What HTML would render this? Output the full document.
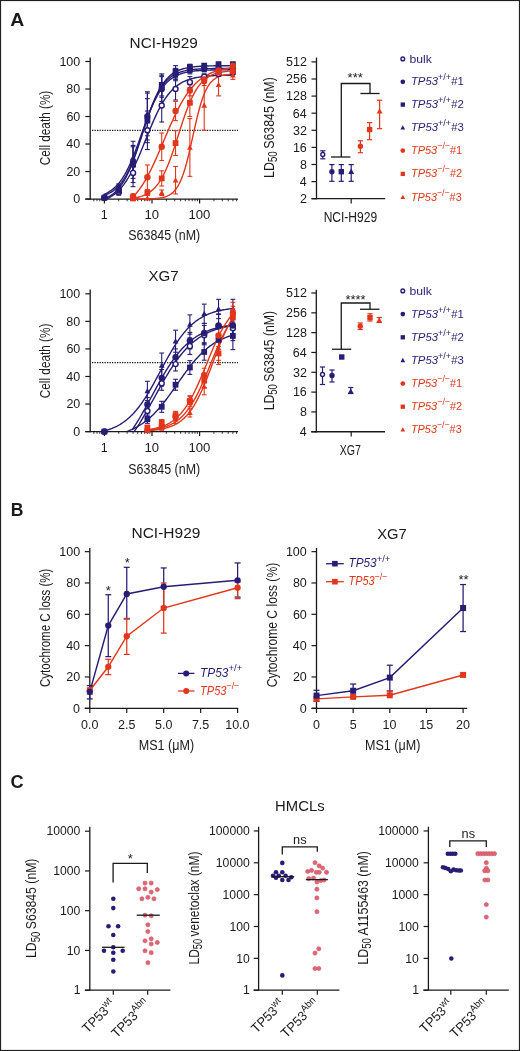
<!DOCTYPE html>
<html><head><meta charset="utf-8"><title>Figure</title>
<style>html,body{margin:0;padding:0;background:#fff;}body{width:520px;height:1051px;overflow:hidden;font-family:"Liberation Sans",sans-serif;}svg{display:block;will-change:transform;}svg text{white-space:pre;}</style>
</head><body>
<svg width="520" height="1051" viewBox="0 0 520 1051" font-family="Liberation Sans, sans-serif"><rect x="0.5" y="0.5" width="519" height="1050" fill="#fff" stroke="#202020" stroke-width="1.2"/>
<g transform="translate(10.8,25.8) scale(1.05,1)" fill="#1a1a1a"><text x="-0.46" y="0" font-size="18.5" font-weight="bold">A</text></g>
<g transform="translate(11.9,516.2) scale(0.95,1)" fill="#1a1a1a"><text x="-1.2" y="0" font-size="18.5" font-weight="bold">B</text></g>
<g transform="translate(11.2,788.3) scale(0.98,1)" fill="#1a1a1a"><text x="-0.74" y="0" font-size="18.5" font-weight="bold">C</text></g>
<g transform="translate(130.8,47.7) scale(1.06,1)" fill="#1a1a1a"><text x="-1.16" y="0" font-size="14.5">NCI-H929</text></g>
<line x1="90.2" y1="57.6" x2="90.2" y2="199.7" stroke="#1a1a1a" stroke-width="1.3"/>
<line x1="85.3" y1="199.05" x2="238" y2="199.05" stroke="#1a1a1a" stroke-width="1.3"/>
<line x1="85.3" y1="199.05" x2="90.2" y2="199.05" stroke="#1a1a1a" stroke-width="1.2"/>
<g transform="translate(73.8,203.35) scale(1,1)" fill="#1a1a1a"><text x="-0.5" y="0" font-size="12.5">0</text></g>
<line x1="85.3" y1="171.54" x2="90.2" y2="171.54" stroke="#1a1a1a" stroke-width="1.2"/>
<g transform="translate(66.99,175.84) scale(1,1)" fill="#1a1a1a"><text x="-0.62" y="0" font-size="12.5">20</text></g>
<line x1="85.3" y1="144.03" x2="90.2" y2="144.03" stroke="#1a1a1a" stroke-width="1.2"/>
<g transform="translate(66.61,148.33) scale(1,1)" fill="#1a1a1a"><text x="-0.25" y="0" font-size="12.5">40</text></g>
<line x1="85.3" y1="116.52" x2="90.2" y2="116.52" stroke="#1a1a1a" stroke-width="1.2"/>
<g transform="translate(66.99,120.82) scale(1,1)" fill="#1a1a1a"><text x="-0.62" y="0" font-size="12.5">60</text></g>
<line x1="85.3" y1="89.01" x2="90.2" y2="89.01" stroke="#1a1a1a" stroke-width="1.2"/>
<g transform="translate(66.92,93.31) scale(1,1)" fill="#1a1a1a"><text x="-0.56" y="0" font-size="12.5">80</text></g>
<line x1="85.3" y1="61.5" x2="90.2" y2="61.5" stroke="#1a1a1a" stroke-width="1.2"/>
<g transform="translate(60.36,65.8) scale(1,1)" fill="#1a1a1a"><text x="-0.94" y="0" font-size="12.5">100</text></g>
<line x1="104.4" y1="199.05" x2="104.4" y2="203.55" stroke="#1a1a1a" stroke-width="1.2"/>
<g transform="translate(101.68,219.25) scale(1,1)" fill="#1a1a1a"><text x="-0.94" y="0" font-size="12.5">1</text></g>
<line x1="152" y1="199.05" x2="152" y2="203.55" stroke="#1a1a1a" stroke-width="1.2"/>
<g transform="translate(145.44,219.25) scale(1.05,1)" fill="#1a1a1a"><text x="-0.94" y="0" font-size="12.5">10</text></g>
<line x1="199.6" y1="199.05" x2="199.6" y2="203.55" stroke="#1a1a1a" stroke-width="1.2"/>
<g transform="translate(189.4,219.25) scale(1.05,1)" fill="#1a1a1a"><text x="-0.94" y="0" font-size="12.5">100</text></g>
<line x1="93.84" y1="199.05" x2="93.84" y2="201.25" stroke="#1a1a1a" stroke-width="0.9"/>
<line x1="97.03" y1="199.05" x2="97.03" y2="201.25" stroke="#1a1a1a" stroke-width="0.9"/>
<line x1="99.79" y1="199.05" x2="99.79" y2="201.25" stroke="#1a1a1a" stroke-width="0.9"/>
<line x1="102.22" y1="199.05" x2="102.22" y2="201.25" stroke="#1a1a1a" stroke-width="0.9"/>
<line x1="118.73" y1="199.05" x2="118.73" y2="201.25" stroke="#1a1a1a" stroke-width="0.9"/>
<line x1="127.11" y1="199.05" x2="127.11" y2="201.25" stroke="#1a1a1a" stroke-width="0.9"/>
<line x1="133.06" y1="199.05" x2="133.06" y2="201.25" stroke="#1a1a1a" stroke-width="0.9"/>
<line x1="137.67" y1="199.05" x2="137.67" y2="201.25" stroke="#1a1a1a" stroke-width="0.9"/>
<line x1="141.44" y1="199.05" x2="141.44" y2="201.25" stroke="#1a1a1a" stroke-width="0.9"/>
<line x1="144.63" y1="199.05" x2="144.63" y2="201.25" stroke="#1a1a1a" stroke-width="0.9"/>
<line x1="147.39" y1="199.05" x2="147.39" y2="201.25" stroke="#1a1a1a" stroke-width="0.9"/>
<line x1="149.82" y1="199.05" x2="149.82" y2="201.25" stroke="#1a1a1a" stroke-width="0.9"/>
<line x1="166.33" y1="199.05" x2="166.33" y2="201.25" stroke="#1a1a1a" stroke-width="0.9"/>
<line x1="174.71" y1="199.05" x2="174.71" y2="201.25" stroke="#1a1a1a" stroke-width="0.9"/>
<line x1="180.66" y1="199.05" x2="180.66" y2="201.25" stroke="#1a1a1a" stroke-width="0.9"/>
<line x1="185.27" y1="199.05" x2="185.27" y2="201.25" stroke="#1a1a1a" stroke-width="0.9"/>
<line x1="189.04" y1="199.05" x2="189.04" y2="201.25" stroke="#1a1a1a" stroke-width="0.9"/>
<line x1="192.23" y1="199.05" x2="192.23" y2="201.25" stroke="#1a1a1a" stroke-width="0.9"/>
<line x1="194.99" y1="199.05" x2="194.99" y2="201.25" stroke="#1a1a1a" stroke-width="0.9"/>
<line x1="197.42" y1="199.05" x2="197.42" y2="201.25" stroke="#1a1a1a" stroke-width="0.9"/>
<line x1="213.93" y1="199.05" x2="213.93" y2="201.25" stroke="#1a1a1a" stroke-width="0.9"/>
<line x1="222.31" y1="199.05" x2="222.31" y2="201.25" stroke="#1a1a1a" stroke-width="0.9"/>
<line x1="228.26" y1="199.05" x2="228.26" y2="201.25" stroke="#1a1a1a" stroke-width="0.9"/>
<line x1="232.87" y1="199.05" x2="232.87" y2="201.25" stroke="#1a1a1a" stroke-width="0.9"/>
<line x1="236.64" y1="199.05" x2="236.64" y2="201.25" stroke="#1a1a1a" stroke-width="0.9"/>
<line x1="92" y1="130.28" x2="238" y2="130.28" stroke="#1a1a1a" stroke-width="1.3" stroke-dasharray="1.3 1.2"/>
<g transform="translate(128.8,240.2) scale(0.82,1)" fill="#1a1a1a"><text x="-0.68" y="0" font-size="15.2">S63845 (nM)</text></g>
<g transform="translate(50,164.7) rotate(-90) scale(0.77,1)" fill="#1a1a1a"><text x="-0.77" y="0" font-size="15.3">Cell death (%)</text></g>
<path d="M107.3,198.7L108.47,198.11L109.65,197.47L110.82,196.77L112,196.02L113.17,195.21L114.35,194.33L115.53,193.39L116.7,192.38L117.88,191.29L119.05,190.12L120.23,188.87L121.4,187.53L122.58,186.1L123.75,184.57L124.93,182.95L126.11,181.24L127.28,179.42L128.46,177.5L129.63,175.48L130.81,173.36L131.98,171.14L133.16,168.82L134.33,166.41L135.51,163.92L136.68,161.33L137.86,158.68L139.04,155.95L140.21,153.17L141.39,150.33L142.56,147.45L143.74,144.55L144.91,141.63L146.09,138.7L147.26,135.77L148.44,132.87L149.62,129.99L150.79,127.16L151.97,124.37L153.14,121.65L154.32,118.99L155.49,116.41L156.67,113.91L157.84,111.51L159.02,109.19L160.19,106.97L161.37,104.85L162.55,102.83L163.72,100.92L164.9,99.1L166.07,97.38L167.25,95.77L168.42,94.24L169.6,92.81L170.77,91.48L171.95,90.22L173.13,89.06L174.3,87.97L175.48,86.95L176.65,86.01L177.83,85.14L179,84.33L180.18,83.58L181.35,82.88L182.53,82.24L183.71,81.65L184.88,81.1L186.06,80.6L187.23,80.14L188.41,79.71L189.58,79.32L190.76,78.96L191.93,78.62L193.11,78.32L194.28,78.04L195.46,77.78L196.64,77.54L197.81,77.33L198.99,77.13L200.16,76.95L201.34,76.78L202.51,76.63L203.69,76.49L204.86,76.36L206.04,76.24L207.22,76.14L208.39,76.04L209.57,75.95L210.74,75.86L211.92,75.79L213.09,75.72L214.27,75.66L215.44,75.6L216.62,75.55L217.8,75.5L218.97,75.45L220.15,75.41L221.32,75.38L222.5,75.34L223.67,75.31L224.85,75.28L226.02,75.26L227.2,75.23L228.37,75.21L229.55,75.19L230.73,75.17L231.9,75.16L233.08,75.14" stroke="#261d75" stroke-width="1.4" fill="none"/>
<path d="M103.77,198.74L104.95,198.3L106.12,197.83L107.3,197.3L108.47,196.71L109.65,196.07L110.82,195.36L112,194.57L113.17,193.71L114.35,192.76L115.53,191.72L116.7,190.58L117.88,189.34L119.05,187.98L120.23,186.5L121.4,184.9L122.58,183.16L123.75,181.28L124.93,179.26L126.11,177.09L127.28,174.76L128.46,172.29L129.63,169.66L130.81,166.89L131.98,163.97L133.16,160.91L134.33,157.73L135.51,154.43L136.68,151.02L137.86,147.53L139.04,143.97L140.21,140.36L141.39,136.73L142.56,133.08L143.74,129.45L144.91,125.86L146.09,122.32L147.26,118.86L148.44,115.48L149.62,112.22L150.79,109.07L151.97,106.06L153.14,103.19L154.32,100.46L155.49,97.89L156.67,95.46L157.84,93.19L159.02,91.07L160.19,89.09L161.37,87.26L162.55,85.57L163.72,84L164.9,82.56L166.07,81.24L167.25,80.03L168.42,78.93L169.6,77.92L170.77,77L171.95,76.17L173.13,75.41L174.3,74.72L175.48,74.09L176.65,73.53L177.83,73.01L179,72.55L180.18,72.13L181.35,71.76L182.53,71.42L183.71,71.11L184.88,70.84L186.06,70.59L187.23,70.36L188.41,70.16L189.58,69.98L190.76,69.82L191.93,69.67L193.11,69.54L194.28,69.42L195.46,69.31L196.64,69.22L197.81,69.13L198.99,69.05L200.16,68.98L201.34,68.92L202.51,68.87L203.69,68.82L204.86,68.77L206.04,68.73L207.22,68.69L208.39,68.66L209.57,68.63L210.74,68.61L211.92,68.58L213.09,68.56L214.27,68.54L215.44,68.53L216.62,68.51L217.8,68.5L218.97,68.48L220.15,68.47L221.32,68.46L222.5,68.45L223.67,68.45L224.85,68.44L226.02,68.43L227.2,68.43L228.37,68.42L229.55,68.42L230.73,68.41L231.9,68.41L233.08,68.41" stroke="#261d75" stroke-width="1.4" fill="none"/>
<path d="M103.77,195.45L104.95,195.05L106.12,194.61L107.3,194.12L108.47,193.58L109.65,192.99L110.82,192.33L112,191.6L113.17,190.81L114.35,189.93L115.53,188.97L116.7,187.92L117.88,186.76L119.05,185.5L120.23,184.13L121.4,182.64L122.58,181.02L123.75,179.27L124.93,177.38L126.11,175.34L127.28,173.16L128.46,170.83L129.63,168.35L130.81,165.73L131.98,162.95L133.16,160.04L134.33,156.99L135.51,153.82L136.68,150.53L137.86,147.15L139.04,143.69L140.21,140.16L141.39,136.59L142.56,132.99L143.74,129.39L144.91,125.8L146.09,122.25L147.26,118.76L148.44,115.35L149.62,112.03L150.79,108.82L151.97,105.72L153.14,102.76L154.32,99.93L155.49,97.25L156.67,94.72L157.84,92.34L159.02,90.1L160.19,88.02L161.37,86.08L162.55,84.27L163.72,82.61L164.9,81.07L166.07,79.66L167.25,78.36L168.42,77.16L169.6,76.08L170.77,75.08L171.95,74.18L173.13,73.35L174.3,72.6L175.48,71.92L176.65,71.3L177.83,70.74L179,70.24L180.18,69.78L181.35,69.37L182.53,68.99L183.71,68.66L184.88,68.35L186.06,68.08L187.23,67.83L188.41,67.61L189.58,67.41L190.76,67.23L191.93,67.07L193.11,66.92L194.28,66.79L195.46,66.67L196.64,66.56L197.81,66.47L198.99,66.38L200.16,66.31L201.34,66.24L202.51,66.17L203.69,66.12L204.86,66.07L206.04,66.02L207.22,65.98L208.39,65.95L209.57,65.91L210.74,65.88L211.92,65.86L213.09,65.83L214.27,65.81L215.44,65.79L216.62,65.78L217.8,65.76L218.97,65.75L220.15,65.74L221.32,65.72L222.5,65.71L223.67,65.71L224.85,65.7L226.02,65.69L227.2,65.68L228.37,65.68L229.55,65.67L230.73,65.67L231.9,65.66L233.08,65.66" stroke="#261d75" stroke-width="1.4" fill="none"/>
<path d="M103.77,194.36L104.95,193.88L106.12,193.34L107.3,192.76L108.47,192.12L109.65,191.41L110.82,190.64L112,189.8L113.17,188.88L114.35,187.88L115.53,186.79L116.7,185.61L117.88,184.33L119.05,182.94L120.23,181.44L121.4,179.82L122.58,178.08L123.75,176.22L124.93,174.24L126.11,172.12L127.28,169.87L128.46,167.49L129.63,164.99L130.81,162.36L131.98,159.61L133.16,156.75L134.33,153.79L135.51,150.73L136.68,147.6L137.86,144.4L139.04,141.14L140.21,137.86L141.39,134.55L142.56,131.25L143.74,127.96L144.91,124.7L146.09,121.49L147.26,118.35L148.44,115.29L149.62,112.32L150.79,109.45L151.97,106.69L153.14,104.05L154.32,101.53L155.49,99.14L156.67,96.88L157.84,94.75L159.02,92.75L160.19,90.88L161.37,89.13L162.55,87.51L163.72,86L164.9,84.6L166.07,83.31L167.25,82.11L168.42,81.02L169.6,80.01L170.77,79.08L171.95,78.23L173.13,77.46L174.3,76.75L175.48,76.1L176.65,75.51L177.83,74.97L179,74.48L180.18,74.04L181.35,73.63L182.53,73.27L183.71,72.93L184.88,72.63L186.06,72.36L187.23,72.11L188.41,71.88L189.58,71.68L190.76,71.49L191.93,71.33L193.11,71.18L194.28,71.04L195.46,70.91L196.64,70.8L197.81,70.7L198.99,70.61L200.16,70.53L201.34,70.45L202.51,70.38L203.69,70.32L204.86,70.27L206.04,70.22L207.22,70.17L208.39,70.13L209.57,70.1L210.74,70.06L211.92,70.03L213.09,70L214.27,69.98L215.44,69.96L216.62,69.94L217.8,69.92L218.97,69.9L220.15,69.89L221.32,69.88L222.5,69.86L223.67,69.85L224.85,69.84L226.02,69.83L227.2,69.83L228.37,69.82L229.55,69.81L230.73,69.81L231.9,69.8L233.08,69.8" stroke="#261d75" stroke-width="1.4" fill="none"/>
<path d="M132.43,197.53L133.34,196.59L134.26,195.61L135.17,194.59L136.09,193.52L137,192.41L137.92,191.25L138.83,190.05L139.75,188.79L140.66,187.5L141.58,186.15L142.49,184.76L143.41,183.31L144.32,181.82L145.24,180.28L146.15,178.7L147.07,177.06L147.98,175.38L148.9,173.66L149.81,171.88L150.73,170.07L151.64,168.21L152.56,166.32L153.47,164.38L154.39,162.41L155.3,160.41L156.22,158.37L157.13,156.31L158.05,154.23L158.96,152.12L159.88,149.99L160.79,147.85L161.71,145.69L162.62,143.53L163.54,141.36L164.45,139.19L165.37,137.02L166.28,134.86L167.2,132.71L168.11,130.58L169.03,128.45L169.94,126.35L170.86,124.28L171.77,122.23L172.69,120.2L173.6,118.22L174.52,116.26L175.43,114.34L176.35,112.46L177.26,110.62L178.18,108.83L179.09,107.07L180.01,105.36L180.92,103.7L181.84,102.09L182.75,100.52L183.67,99L184.58,97.53L185.5,96.11L186.41,94.74L187.33,93.41L188.24,92.13L189.16,90.9L190.07,89.72L190.99,88.58L191.9,87.49L192.82,86.44L193.73,85.43L194.65,84.47L195.56,83.54L196.48,82.66L197.39,81.82L198.31,81.01L199.22,80.24L200.14,79.51L201.05,78.81L201.97,78.14L202.88,77.5L203.8,76.9L204.71,76.32L205.63,75.77L206.54,75.25L207.46,74.76L208.37,74.29L209.29,73.84L210.2,73.41L211.12,73.01L212.03,72.63L212.95,72.27L213.86,71.92L214.78,71.6L215.69,71.29L216.61,70.99L217.52,70.72L218.44,70.45L219.35,70.2L220.27,69.97L221.18,69.74L222.1,69.53L223.01,69.33L223.93,69.14L224.84,68.97L225.76,68.8L226.67,68.64L227.59,68.48L228.5,68.34L229.42,68.21L230.33,68.08L231.25,67.96L232.16,67.84L233.08,67.74" stroke="#e2361c" stroke-width="1.4" fill="none"/>
<path d="M132.43,198.23L133.34,198.1L134.26,197.95L135.17,197.78L136.09,197.6L137,197.41L137.92,197.2L138.83,196.97L139.75,196.72L140.66,196.45L141.58,196.15L142.49,195.83L143.41,195.48L144.32,195.1L145.24,194.69L146.15,194.24L147.07,193.75L147.98,193.23L148.9,192.66L149.81,192.04L150.73,191.38L151.64,190.66L152.56,189.88L153.47,189.04L154.39,188.14L155.3,187.17L156.22,186.13L157.13,185.01L158.05,183.82L158.96,182.54L159.88,181.18L160.79,179.72L161.71,178.18L162.62,176.54L163.54,174.81L164.45,172.98L165.37,171.05L166.28,169.02L167.2,166.9L168.11,164.68L169.03,162.37L169.94,159.98L170.86,157.5L171.77,154.94L172.69,152.31L173.6,149.62L174.52,146.87L175.43,144.08L176.35,141.25L177.26,138.4L178.18,135.54L179.09,132.67L180.01,129.81L180.92,126.98L181.84,124.17L182.75,121.4L183.67,118.69L184.58,116.03L185.5,113.45L186.41,110.93L187.33,108.5L188.24,106.15L189.16,103.9L190.07,101.74L190.99,99.67L191.9,97.7L192.82,95.83L193.73,94.06L194.65,92.38L195.56,90.8L196.48,89.31L197.39,87.91L198.31,86.6L199.22,85.37L200.14,84.22L201.05,83.15L201.97,82.15L202.88,81.22L203.8,80.36L204.71,79.56L205.63,78.82L206.54,78.13L207.46,77.49L208.37,76.9L209.29,76.36L210.2,75.86L211.12,75.4L212.03,74.97L212.95,74.58L213.86,74.21L214.78,73.88L215.69,73.57L216.61,73.29L217.52,73.03L218.44,72.8L219.35,72.58L220.27,72.38L221.18,72.19L222.1,72.02L223.01,71.87L223.93,71.72L224.84,71.59L225.76,71.47L226.67,71.36L227.59,71.26L228.5,71.17L229.42,71.09L230.33,71.01L231.25,70.94L232.16,70.87L233.08,70.81" stroke="#e2361c" stroke-width="1.4" fill="none"/>
<path d="M132.43,199.03L133.34,199.03L134.26,199.02L135.17,199.02L136.09,199.02L137,199.01L137.92,199.01L138.83,199L139.75,198.99L140.66,198.99L141.58,198.98L142.49,198.97L143.41,198.95L144.32,198.94L145.24,198.92L146.15,198.91L147.07,198.89L147.98,198.86L148.9,198.84L149.81,198.81L150.73,198.77L151.64,198.73L152.56,198.69L153.47,198.64L154.39,198.58L155.3,198.51L156.22,198.43L157.13,198.35L158.05,198.25L158.96,198.14L159.88,198.01L160.79,197.86L161.71,197.69L162.62,197.5L163.54,197.29L164.45,197.04L165.37,196.76L166.28,196.44L167.2,196.08L168.11,195.67L169.03,195.2L169.94,194.68L170.86,194.08L171.77,193.41L172.69,192.64L173.6,191.79L174.52,190.82L175.43,189.74L176.35,188.53L177.26,187.18L178.18,185.68L179.09,184L180.01,182.16L180.92,180.12L181.84,177.89L182.75,175.45L183.67,172.8L184.58,169.94L185.5,166.87L186.41,163.59L187.33,160.12L188.24,156.48L189.16,152.67L190.07,148.73L190.99,144.69L191.9,140.58L192.82,136.43L193.73,132.28L194.65,128.17L195.56,124.13L196.48,120.19L197.39,116.39L198.31,112.74L199.22,109.28L200.14,106L201.05,102.94L201.97,100.08L202.88,97.44L203.8,95L204.71,92.77L205.63,90.74L206.54,88.89L207.46,87.23L208.37,85.72L209.29,84.37L210.2,83.17L211.12,82.09L212.03,81.13L212.95,80.27L213.86,79.51L214.78,78.84L215.69,78.24L216.61,77.72L217.52,77.25L218.44,76.84L219.35,76.48L220.27,76.16L221.18,75.89L222.1,75.64L223.01,75.42L223.93,75.23L224.84,75.07L225.76,74.92L226.67,74.79L227.59,74.68L228.5,74.58L229.42,74.49L230.33,74.42L231.25,74.35L232.16,74.29L233.08,74.24" stroke="#e2361c" stroke-width="1.4" fill="none"/>
<line x1="118.73" y1="189.42" x2="118.73" y2="194.92" stroke="#261d75" stroke-width="1.1"/>
<line x1="116.33" y1="189.42" x2="121.13" y2="189.42" stroke="#261d75" stroke-width="1.1"/>
<line x1="116.33" y1="194.92" x2="121.13" y2="194.92" stroke="#261d75" stroke-width="1.1"/>
<line x1="133.06" y1="159.16" x2="133.06" y2="186.67" stroke="#261d75" stroke-width="1.1"/>
<line x1="130.66" y1="159.16" x2="135.46" y2="159.16" stroke="#261d75" stroke-width="1.1"/>
<line x1="130.66" y1="186.67" x2="135.46" y2="186.67" stroke="#261d75" stroke-width="1.1"/>
<line x1="147.39" y1="111.02" x2="147.39" y2="149.53" stroke="#261d75" stroke-width="1.1"/>
<line x1="144.99" y1="111.02" x2="149.79" y2="111.02" stroke="#261d75" stroke-width="1.1"/>
<line x1="144.99" y1="149.53" x2="149.79" y2="149.53" stroke="#261d75" stroke-width="1.1"/>
<line x1="161.72" y1="89.01" x2="161.72" y2="122.02" stroke="#261d75" stroke-width="1.1"/>
<line x1="159.32" y1="89.01" x2="164.12" y2="89.01" stroke="#261d75" stroke-width="1.1"/>
<line x1="159.32" y1="122.02" x2="164.12" y2="122.02" stroke="#261d75" stroke-width="1.1"/>
<line x1="175.55" y1="78.01" x2="175.55" y2="100.01" stroke="#261d75" stroke-width="1.1"/>
<line x1="173.15" y1="78.01" x2="177.95" y2="78.01" stroke="#261d75" stroke-width="1.1"/>
<line x1="173.15" y1="100.01" x2="177.95" y2="100.01" stroke="#261d75" stroke-width="1.1"/>
<line x1="189.88" y1="76.63" x2="189.88" y2="87.63" stroke="#261d75" stroke-width="1.1"/>
<line x1="187.48" y1="76.63" x2="192.28" y2="76.63" stroke="#261d75" stroke-width="1.1"/>
<line x1="187.48" y1="87.63" x2="192.28" y2="87.63" stroke="#261d75" stroke-width="1.1"/>
<line x1="204.21" y1="73.88" x2="204.21" y2="79.38" stroke="#261d75" stroke-width="1.1"/>
<line x1="201.81" y1="73.88" x2="206.61" y2="73.88" stroke="#261d75" stroke-width="1.1"/>
<line x1="201.81" y1="79.38" x2="206.61" y2="79.38" stroke="#261d75" stroke-width="1.1"/>
<line x1="218.54" y1="71.82" x2="218.54" y2="75.94" stroke="#261d75" stroke-width="1.1"/>
<line x1="216.14" y1="71.82" x2="220.94" y2="71.82" stroke="#261d75" stroke-width="1.1"/>
<line x1="216.14" y1="75.94" x2="220.94" y2="75.94" stroke="#261d75" stroke-width="1.1"/>
<line x1="232.87" y1="70.44" x2="232.87" y2="74.57" stroke="#261d75" stroke-width="1.1"/>
<line x1="230.47" y1="70.44" x2="235.27" y2="70.44" stroke="#261d75" stroke-width="1.1"/>
<line x1="230.47" y1="74.57" x2="235.27" y2="74.57" stroke="#261d75" stroke-width="1.1"/>
<line x1="118.73" y1="185.3" x2="118.73" y2="193.55" stroke="#261d75" stroke-width="1.1"/>
<line x1="116.33" y1="185.3" x2="121.13" y2="185.3" stroke="#261d75" stroke-width="1.1"/>
<line x1="116.33" y1="193.55" x2="121.13" y2="193.55" stroke="#261d75" stroke-width="1.1"/>
<line x1="133.06" y1="145.41" x2="133.06" y2="178.42" stroke="#261d75" stroke-width="1.1"/>
<line x1="130.66" y1="145.41" x2="135.46" y2="145.41" stroke="#261d75" stroke-width="1.1"/>
<line x1="130.66" y1="178.42" x2="135.46" y2="178.42" stroke="#261d75" stroke-width="1.1"/>
<line x1="147.39" y1="93.14" x2="147.39" y2="139.9" stroke="#261d75" stroke-width="1.1"/>
<line x1="144.99" y1="93.14" x2="149.79" y2="93.14" stroke="#261d75" stroke-width="1.1"/>
<line x1="144.99" y1="139.9" x2="149.79" y2="139.9" stroke="#261d75" stroke-width="1.1"/>
<line x1="161.72" y1="76.63" x2="161.72" y2="101.39" stroke="#261d75" stroke-width="1.1"/>
<line x1="159.32" y1="76.63" x2="164.12" y2="76.63" stroke="#261d75" stroke-width="1.1"/>
<line x1="159.32" y1="101.39" x2="164.12" y2="101.39" stroke="#261d75" stroke-width="1.1"/>
<line x1="175.55" y1="68.38" x2="175.55" y2="79.38" stroke="#261d75" stroke-width="1.1"/>
<line x1="173.15" y1="68.38" x2="177.95" y2="68.38" stroke="#261d75" stroke-width="1.1"/>
<line x1="173.15" y1="79.38" x2="177.95" y2="79.38" stroke="#261d75" stroke-width="1.1"/>
<line x1="189.88" y1="67" x2="189.88" y2="72.5" stroke="#261d75" stroke-width="1.1"/>
<line x1="187.48" y1="67" x2="192.28" y2="67" stroke="#261d75" stroke-width="1.1"/>
<line x1="187.48" y1="72.5" x2="192.28" y2="72.5" stroke="#261d75" stroke-width="1.1"/>
<line x1="204.21" y1="66.31" x2="204.21" y2="70.44" stroke="#261d75" stroke-width="1.1"/>
<line x1="201.81" y1="66.31" x2="206.61" y2="66.31" stroke="#261d75" stroke-width="1.1"/>
<line x1="201.81" y1="70.44" x2="206.61" y2="70.44" stroke="#261d75" stroke-width="1.1"/>
<line x1="218.54" y1="66.31" x2="218.54" y2="70.44" stroke="#261d75" stroke-width="1.1"/>
<line x1="216.14" y1="66.31" x2="220.94" y2="66.31" stroke="#261d75" stroke-width="1.1"/>
<line x1="216.14" y1="70.44" x2="220.94" y2="70.44" stroke="#261d75" stroke-width="1.1"/>
<line x1="232.87" y1="66.31" x2="232.87" y2="70.44" stroke="#261d75" stroke-width="1.1"/>
<line x1="230.47" y1="66.31" x2="235.27" y2="66.31" stroke="#261d75" stroke-width="1.1"/>
<line x1="230.47" y1="70.44" x2="235.27" y2="70.44" stroke="#261d75" stroke-width="1.1"/>
<line x1="118.73" y1="186.67" x2="118.73" y2="194.92" stroke="#261d75" stroke-width="1.1"/>
<line x1="116.33" y1="186.67" x2="121.13" y2="186.67" stroke="#261d75" stroke-width="1.1"/>
<line x1="116.33" y1="194.92" x2="121.13" y2="194.92" stroke="#261d75" stroke-width="1.1"/>
<line x1="133.06" y1="146.78" x2="133.06" y2="182.54" stroke="#261d75" stroke-width="1.1"/>
<line x1="130.66" y1="146.78" x2="135.46" y2="146.78" stroke="#261d75" stroke-width="1.1"/>
<line x1="130.66" y1="182.54" x2="135.46" y2="182.54" stroke="#261d75" stroke-width="1.1"/>
<line x1="147.39" y1="98.64" x2="147.39" y2="142.65" stroke="#261d75" stroke-width="1.1"/>
<line x1="144.99" y1="98.64" x2="149.79" y2="98.64" stroke="#261d75" stroke-width="1.1"/>
<line x1="144.99" y1="142.65" x2="149.79" y2="142.65" stroke="#261d75" stroke-width="1.1"/>
<line x1="161.72" y1="73.88" x2="161.72" y2="95.89" stroke="#261d75" stroke-width="1.1"/>
<line x1="159.32" y1="73.88" x2="164.12" y2="73.88" stroke="#261d75" stroke-width="1.1"/>
<line x1="159.32" y1="95.89" x2="164.12" y2="95.89" stroke="#261d75" stroke-width="1.1"/>
<line x1="175.55" y1="65.63" x2="175.55" y2="76.63" stroke="#261d75" stroke-width="1.1"/>
<line x1="173.15" y1="65.63" x2="177.95" y2="65.63" stroke="#261d75" stroke-width="1.1"/>
<line x1="173.15" y1="76.63" x2="177.95" y2="76.63" stroke="#261d75" stroke-width="1.1"/>
<line x1="189.88" y1="64.25" x2="189.88" y2="69.75" stroke="#261d75" stroke-width="1.1"/>
<line x1="187.48" y1="64.25" x2="192.28" y2="64.25" stroke="#261d75" stroke-width="1.1"/>
<line x1="187.48" y1="69.75" x2="192.28" y2="69.75" stroke="#261d75" stroke-width="1.1"/>
<line x1="204.21" y1="63.56" x2="204.21" y2="67.69" stroke="#261d75" stroke-width="1.1"/>
<line x1="201.81" y1="63.56" x2="206.61" y2="63.56" stroke="#261d75" stroke-width="1.1"/>
<line x1="201.81" y1="67.69" x2="206.61" y2="67.69" stroke="#261d75" stroke-width="1.1"/>
<line x1="218.54" y1="62.19" x2="218.54" y2="66.31" stroke="#261d75" stroke-width="1.1"/>
<line x1="216.14" y1="62.19" x2="220.94" y2="62.19" stroke="#261d75" stroke-width="1.1"/>
<line x1="216.14" y1="66.31" x2="220.94" y2="66.31" stroke="#261d75" stroke-width="1.1"/>
<line x1="232.87" y1="62.19" x2="232.87" y2="66.31" stroke="#261d75" stroke-width="1.1"/>
<line x1="230.47" y1="62.19" x2="235.27" y2="62.19" stroke="#261d75" stroke-width="1.1"/>
<line x1="230.47" y1="66.31" x2="235.27" y2="66.31" stroke="#261d75" stroke-width="1.1"/>
<line x1="118.73" y1="183.92" x2="118.73" y2="192.17" stroke="#261d75" stroke-width="1.1"/>
<line x1="116.33" y1="183.92" x2="121.13" y2="183.92" stroke="#261d75" stroke-width="1.1"/>
<line x1="116.33" y1="192.17" x2="121.13" y2="192.17" stroke="#261d75" stroke-width="1.1"/>
<line x1="133.06" y1="141.28" x2="133.06" y2="174.29" stroke="#261d75" stroke-width="1.1"/>
<line x1="130.66" y1="141.28" x2="135.46" y2="141.28" stroke="#261d75" stroke-width="1.1"/>
<line x1="130.66" y1="174.29" x2="135.46" y2="174.29" stroke="#261d75" stroke-width="1.1"/>
<line x1="147.39" y1="91.76" x2="147.39" y2="135.78" stroke="#261d75" stroke-width="1.1"/>
<line x1="144.99" y1="91.76" x2="149.79" y2="91.76" stroke="#261d75" stroke-width="1.1"/>
<line x1="144.99" y1="135.78" x2="149.79" y2="135.78" stroke="#261d75" stroke-width="1.1"/>
<line x1="161.72" y1="75.25" x2="161.72" y2="97.26" stroke="#261d75" stroke-width="1.1"/>
<line x1="159.32" y1="75.25" x2="164.12" y2="75.25" stroke="#261d75" stroke-width="1.1"/>
<line x1="159.32" y1="97.26" x2="164.12" y2="97.26" stroke="#261d75" stroke-width="1.1"/>
<line x1="175.55" y1="69.75" x2="175.55" y2="80.76" stroke="#261d75" stroke-width="1.1"/>
<line x1="173.15" y1="69.75" x2="177.95" y2="69.75" stroke="#261d75" stroke-width="1.1"/>
<line x1="173.15" y1="80.76" x2="177.95" y2="80.76" stroke="#261d75" stroke-width="1.1"/>
<line x1="189.88" y1="68.38" x2="189.88" y2="73.88" stroke="#261d75" stroke-width="1.1"/>
<line x1="187.48" y1="68.38" x2="192.28" y2="68.38" stroke="#261d75" stroke-width="1.1"/>
<line x1="187.48" y1="73.88" x2="192.28" y2="73.88" stroke="#261d75" stroke-width="1.1"/>
<line x1="204.21" y1="67.69" x2="204.21" y2="71.82" stroke="#261d75" stroke-width="1.1"/>
<line x1="201.81" y1="67.69" x2="206.61" y2="67.69" stroke="#261d75" stroke-width="1.1"/>
<line x1="201.81" y1="71.82" x2="206.61" y2="71.82" stroke="#261d75" stroke-width="1.1"/>
<line x1="218.54" y1="67.69" x2="218.54" y2="71.82" stroke="#261d75" stroke-width="1.1"/>
<line x1="216.14" y1="67.69" x2="220.94" y2="67.69" stroke="#261d75" stroke-width="1.1"/>
<line x1="216.14" y1="71.82" x2="220.94" y2="71.82" stroke="#261d75" stroke-width="1.1"/>
<line x1="232.87" y1="67.69" x2="232.87" y2="71.82" stroke="#261d75" stroke-width="1.1"/>
<line x1="230.47" y1="67.69" x2="235.27" y2="67.69" stroke="#261d75" stroke-width="1.1"/>
<line x1="230.47" y1="71.82" x2="235.27" y2="71.82" stroke="#261d75" stroke-width="1.1"/>
<line x1="133.06" y1="194.24" x2="133.06" y2="198.36" stroke="#e2361c" stroke-width="1.1"/>
<line x1="130.66" y1="194.24" x2="135.46" y2="194.24" stroke="#e2361c" stroke-width="1.1"/>
<line x1="130.66" y1="198.36" x2="135.46" y2="198.36" stroke="#e2361c" stroke-width="1.1"/>
<line x1="147.39" y1="164.94" x2="147.39" y2="189.7" stroke="#e2361c" stroke-width="1.1"/>
<line x1="144.99" y1="164.94" x2="149.79" y2="164.94" stroke="#e2361c" stroke-width="1.1"/>
<line x1="144.99" y1="189.7" x2="149.79" y2="189.7" stroke="#e2361c" stroke-width="1.1"/>
<line x1="161.72" y1="133.03" x2="161.72" y2="160.54" stroke="#e2361c" stroke-width="1.1"/>
<line x1="159.32" y1="133.03" x2="164.12" y2="133.03" stroke="#e2361c" stroke-width="1.1"/>
<line x1="159.32" y1="160.54" x2="164.12" y2="160.54" stroke="#e2361c" stroke-width="1.1"/>
<line x1="175.55" y1="101.39" x2="175.55" y2="120.65" stroke="#e2361c" stroke-width="1.1"/>
<line x1="173.15" y1="101.39" x2="177.95" y2="101.39" stroke="#e2361c" stroke-width="1.1"/>
<line x1="173.15" y1="120.65" x2="177.95" y2="120.65" stroke="#e2361c" stroke-width="1.1"/>
<line x1="189.88" y1="84.88" x2="189.88" y2="95.89" stroke="#e2361c" stroke-width="1.1"/>
<line x1="187.48" y1="84.88" x2="192.28" y2="84.88" stroke="#e2361c" stroke-width="1.1"/>
<line x1="187.48" y1="95.89" x2="192.28" y2="95.89" stroke="#e2361c" stroke-width="1.1"/>
<line x1="204.21" y1="75.25" x2="204.21" y2="83.51" stroke="#e2361c" stroke-width="1.1"/>
<line x1="201.81" y1="75.25" x2="206.61" y2="75.25" stroke="#e2361c" stroke-width="1.1"/>
<line x1="201.81" y1="83.51" x2="206.61" y2="83.51" stroke="#e2361c" stroke-width="1.1"/>
<line x1="218.54" y1="67.69" x2="218.54" y2="73.19" stroke="#e2361c" stroke-width="1.1"/>
<line x1="216.14" y1="67.69" x2="220.94" y2="67.69" stroke="#e2361c" stroke-width="1.1"/>
<line x1="216.14" y1="73.19" x2="220.94" y2="73.19" stroke="#e2361c" stroke-width="1.1"/>
<line x1="232.87" y1="63.56" x2="232.87" y2="67.69" stroke="#e2361c" stroke-width="1.1"/>
<line x1="230.47" y1="63.56" x2="235.27" y2="63.56" stroke="#e2361c" stroke-width="1.1"/>
<line x1="230.47" y1="67.69" x2="235.27" y2="67.69" stroke="#e2361c" stroke-width="1.1"/>
<line x1="147.39" y1="189.97" x2="147.39" y2="195.47" stroke="#e2361c" stroke-width="1.1"/>
<line x1="144.99" y1="189.97" x2="149.79" y2="189.97" stroke="#e2361c" stroke-width="1.1"/>
<line x1="144.99" y1="195.47" x2="149.79" y2="195.47" stroke="#e2361c" stroke-width="1.1"/>
<line x1="161.72" y1="170.85" x2="161.72" y2="185.98" stroke="#e2361c" stroke-width="1.1"/>
<line x1="159.32" y1="170.85" x2="164.12" y2="170.85" stroke="#e2361c" stroke-width="1.1"/>
<line x1="159.32" y1="185.98" x2="164.12" y2="185.98" stroke="#e2361c" stroke-width="1.1"/>
<line x1="175.55" y1="130.69" x2="175.55" y2="155.45" stroke="#e2361c" stroke-width="1.1"/>
<line x1="173.15" y1="130.69" x2="177.95" y2="130.69" stroke="#e2361c" stroke-width="1.1"/>
<line x1="173.15" y1="155.45" x2="177.95" y2="155.45" stroke="#e2361c" stroke-width="1.1"/>
<line x1="189.88" y1="89.01" x2="189.88" y2="116.52" stroke="#e2361c" stroke-width="1.1"/>
<line x1="187.48" y1="89.01" x2="192.28" y2="89.01" stroke="#e2361c" stroke-width="1.1"/>
<line x1="187.48" y1="116.52" x2="192.28" y2="116.52" stroke="#e2361c" stroke-width="1.1"/>
<line x1="204.21" y1="74.57" x2="204.21" y2="85.57" stroke="#e2361c" stroke-width="1.1"/>
<line x1="201.81" y1="74.57" x2="206.61" y2="74.57" stroke="#e2361c" stroke-width="1.1"/>
<line x1="201.81" y1="85.57" x2="206.61" y2="85.57" stroke="#e2361c" stroke-width="1.1"/>
<line x1="218.54" y1="69.75" x2="218.54" y2="75.25" stroke="#e2361c" stroke-width="1.1"/>
<line x1="216.14" y1="69.75" x2="220.94" y2="69.75" stroke="#e2361c" stroke-width="1.1"/>
<line x1="216.14" y1="75.25" x2="220.94" y2="75.25" stroke="#e2361c" stroke-width="1.1"/>
<line x1="232.87" y1="69.07" x2="232.87" y2="73.19" stroke="#e2361c" stroke-width="1.1"/>
<line x1="230.47" y1="69.07" x2="235.27" y2="69.07" stroke="#e2361c" stroke-width="1.1"/>
<line x1="230.47" y1="73.19" x2="235.27" y2="73.19" stroke="#e2361c" stroke-width="1.1"/>
<line x1="161.72" y1="189.97" x2="161.72" y2="195.47" stroke="#e2361c" stroke-width="1.1"/>
<line x1="159.32" y1="189.97" x2="164.12" y2="189.97" stroke="#e2361c" stroke-width="1.1"/>
<line x1="159.32" y1="195.47" x2="164.12" y2="195.47" stroke="#e2361c" stroke-width="1.1"/>
<line x1="175.55" y1="166.45" x2="175.55" y2="193.96" stroke="#e2361c" stroke-width="1.1"/>
<line x1="173.15" y1="166.45" x2="177.95" y2="166.45" stroke="#e2361c" stroke-width="1.1"/>
<line x1="173.15" y1="193.96" x2="177.95" y2="193.96" stroke="#e2361c" stroke-width="1.1"/>
<line x1="189.88" y1="118.58" x2="189.88" y2="176.35" stroke="#e2361c" stroke-width="1.1"/>
<line x1="187.48" y1="118.58" x2="192.28" y2="118.58" stroke="#e2361c" stroke-width="1.1"/>
<line x1="187.48" y1="176.35" x2="192.28" y2="176.35" stroke="#e2361c" stroke-width="1.1"/>
<line x1="204.21" y1="80.76" x2="204.21" y2="130.28" stroke="#e2361c" stroke-width="1.1"/>
<line x1="201.81" y1="80.76" x2="206.61" y2="80.76" stroke="#e2361c" stroke-width="1.1"/>
<line x1="201.81" y1="130.28" x2="206.61" y2="130.28" stroke="#e2361c" stroke-width="1.1"/>
<line x1="218.54" y1="73.88" x2="218.54" y2="95.89" stroke="#e2361c" stroke-width="1.1"/>
<line x1="216.14" y1="73.88" x2="220.94" y2="73.88" stroke="#e2361c" stroke-width="1.1"/>
<line x1="216.14" y1="95.89" x2="220.94" y2="95.89" stroke="#e2361c" stroke-width="1.1"/>
<line x1="232.87" y1="71.13" x2="232.87" y2="79.38" stroke="#e2361c" stroke-width="1.1"/>
<line x1="230.47" y1="71.13" x2="235.27" y2="71.13" stroke="#e2361c" stroke-width="1.1"/>
<line x1="230.47" y1="79.38" x2="235.27" y2="79.38" stroke="#e2361c" stroke-width="1.1"/>
<circle cx="104.4" cy="197.67" r="2.5" fill="#fff" stroke="#261d75" stroke-width="1.4"/>
<circle cx="118.73" cy="192.17" r="2.5" fill="#fff" stroke="#261d75" stroke-width="1.4"/>
<circle cx="133.06" cy="172.92" r="2.5" fill="#fff" stroke="#261d75" stroke-width="1.4"/>
<circle cx="147.39" cy="130.28" r="2.5" fill="#fff" stroke="#261d75" stroke-width="1.4"/>
<circle cx="161.72" cy="105.52" r="2.5" fill="#fff" stroke="#261d75" stroke-width="1.4"/>
<circle cx="175.55" cy="89.01" r="2.5" fill="#fff" stroke="#261d75" stroke-width="1.4"/>
<circle cx="189.88" cy="82.13" r="2.5" fill="#fff" stroke="#261d75" stroke-width="1.4"/>
<circle cx="204.21" cy="76.63" r="2.5" fill="#fff" stroke="#261d75" stroke-width="1.4"/>
<circle cx="218.54" cy="73.88" r="2.5" fill="#fff" stroke="#261d75" stroke-width="1.4"/>
<circle cx="232.87" cy="72.5" r="2.5" fill="#fff" stroke="#261d75" stroke-width="1.4"/>
<circle cx="104.4" cy="197.67" r="3.2" fill="#261d75"/>
<circle cx="118.73" cy="189.42" r="3.2" fill="#261d75"/>
<circle cx="133.06" cy="161.91" r="3.2" fill="#261d75"/>
<circle cx="147.39" cy="116.52" r="3.2" fill="#261d75"/>
<circle cx="161.72" cy="89.01" r="3.2" fill="#261d75"/>
<circle cx="175.55" cy="73.88" r="3.2" fill="#261d75"/>
<circle cx="189.88" cy="69.75" r="3.2" fill="#261d75"/>
<circle cx="204.21" cy="68.38" r="3.2" fill="#261d75"/>
<circle cx="218.54" cy="68.38" r="3.2" fill="#261d75"/>
<circle cx="232.87" cy="68.38" r="3.2" fill="#261d75"/>
<rect x="101.5" y="194.77" width="5.8" height="5.8" fill="#261d75"/>
<rect x="115.83" y="187.9" width="5.8" height="5.8" fill="#261d75"/>
<rect x="130.16" y="161.76" width="5.8" height="5.8" fill="#261d75"/>
<rect x="144.49" y="117.75" width="5.8" height="5.8" fill="#261d75"/>
<rect x="158.82" y="81.98" width="5.8" height="5.8" fill="#261d75"/>
<rect x="172.65" y="68.23" width="5.8" height="5.8" fill="#261d75"/>
<rect x="186.98" y="64.1" width="5.8" height="5.8" fill="#261d75"/>
<rect x="201.31" y="62.73" width="5.8" height="5.8" fill="#261d75"/>
<rect x="215.64" y="61.35" width="5.8" height="5.8" fill="#261d75"/>
<rect x="229.97" y="61.35" width="5.8" height="5.8" fill="#261d75"/>
<path d="M104.4,194.68L107.26,199.88L101.54,199.88Z" fill="#261d75"/>
<path d="M118.73,185.06L121.59,190.26L115.87,190.26Z" fill="#261d75"/>
<path d="M133.06,154.8L135.92,160L130.2,160Z" fill="#261d75"/>
<path d="M147.39,110.78L150.25,115.98L144.53,115.98Z" fill="#261d75"/>
<path d="M161.72,83.27L164.58,88.47L158.86,88.47Z" fill="#261d75"/>
<path d="M175.55,72.27L178.41,77.46L172.69,77.46Z" fill="#261d75"/>
<path d="M189.88,68.14L192.74,73.34L187.02,73.34Z" fill="#261d75"/>
<path d="M204.21,66.76L207.07,71.96L201.35,71.96Z" fill="#261d75"/>
<path d="M218.54,66.76L221.4,71.96L215.68,71.96Z" fill="#261d75"/>
<path d="M232.87,66.76L235.73,71.96L230.01,71.96Z" fill="#261d75"/>
<circle cx="133.06" cy="196.3" r="3.2" fill="#e2361c"/>
<circle cx="147.39" cy="177.32" r="3.2" fill="#e2361c"/>
<circle cx="161.72" cy="146.78" r="3.2" fill="#e2361c"/>
<circle cx="175.55" cy="111.02" r="3.2" fill="#e2361c"/>
<circle cx="189.88" cy="90.39" r="3.2" fill="#e2361c"/>
<circle cx="204.21" cy="79.38" r="3.2" fill="#e2361c"/>
<circle cx="218.54" cy="70.44" r="3.2" fill="#e2361c"/>
<circle cx="232.87" cy="65.63" r="3.2" fill="#e2361c"/>
<rect x="130.16" y="195.46" width="5.8" height="5.8" fill="#e2361c"/>
<rect x="144.49" y="189.82" width="5.8" height="5.8" fill="#e2361c"/>
<rect x="158.82" y="175.52" width="5.8" height="5.8" fill="#e2361c"/>
<rect x="172.65" y="140.17" width="5.8" height="5.8" fill="#e2361c"/>
<rect x="186.98" y="99.87" width="5.8" height="5.8" fill="#e2361c"/>
<rect x="201.31" y="77.17" width="5.8" height="5.8" fill="#e2361c"/>
<rect x="215.64" y="69.6" width="5.8" height="5.8" fill="#e2361c"/>
<rect x="229.97" y="68.23" width="5.8" height="5.8" fill="#e2361c"/>
<path d="M133.06,195.65L135.92,200.85L130.2,200.85Z" fill="#e2361c"/>
<path d="M147.39,195.37L150.25,200.57L144.53,200.57Z" fill="#e2361c"/>
<path d="M161.72,189.73L164.58,194.93L158.86,194.93Z" fill="#e2361c"/>
<path d="M175.55,177.22L178.41,182.42L172.69,182.42Z" fill="#e2361c"/>
<path d="M189.88,144.48L192.74,149.68L187.02,149.68Z" fill="#e2361c"/>
<path d="M204.21,102.53L207.07,107.73L201.35,107.73Z" fill="#e2361c"/>
<path d="M218.54,81.89L221.4,87.09L215.68,87.09Z" fill="#e2361c"/>
<path d="M232.87,72.27L235.73,77.46L230.01,77.46Z" fill="#e2361c"/>
<g transform="translate(148.8,281.3) scale(1.04,1)" fill="#1a1a1a"><text x="-0.36" y="0" font-size="14.5">XG7</text></g>
<line x1="90.2" y1="289.6" x2="90.2" y2="432.25" stroke="#1a1a1a" stroke-width="1.3"/>
<line x1="85.3" y1="431.6" x2="238" y2="431.6" stroke="#1a1a1a" stroke-width="1.3"/>
<line x1="85.3" y1="431.6" x2="90.2" y2="431.6" stroke="#1a1a1a" stroke-width="1.2"/>
<g transform="translate(73.8,435.9) scale(1,1)" fill="#1a1a1a"><text x="-0.5" y="0" font-size="12.5">0</text></g>
<line x1="85.3" y1="404.04" x2="90.2" y2="404.04" stroke="#1a1a1a" stroke-width="1.2"/>
<g transform="translate(66.99,408.34) scale(1,1)" fill="#1a1a1a"><text x="-0.62" y="0" font-size="12.5">20</text></g>
<line x1="85.3" y1="376.48" x2="90.2" y2="376.48" stroke="#1a1a1a" stroke-width="1.2"/>
<g transform="translate(66.61,380.78) scale(1,1)" fill="#1a1a1a"><text x="-0.25" y="0" font-size="12.5">40</text></g>
<line x1="85.3" y1="348.92" x2="90.2" y2="348.92" stroke="#1a1a1a" stroke-width="1.2"/>
<g transform="translate(66.99,353.22) scale(1,1)" fill="#1a1a1a"><text x="-0.62" y="0" font-size="12.5">60</text></g>
<line x1="85.3" y1="321.36" x2="90.2" y2="321.36" stroke="#1a1a1a" stroke-width="1.2"/>
<g transform="translate(66.92,325.66) scale(1,1)" fill="#1a1a1a"><text x="-0.56" y="0" font-size="12.5">80</text></g>
<line x1="85.3" y1="293.8" x2="90.2" y2="293.8" stroke="#1a1a1a" stroke-width="1.2"/>
<g transform="translate(60.36,298.1) scale(1,1)" fill="#1a1a1a"><text x="-0.94" y="0" font-size="12.5">100</text></g>
<line x1="104.4" y1="431.6" x2="104.4" y2="436.1" stroke="#1a1a1a" stroke-width="1.2"/>
<g transform="translate(101.68,451.8) scale(1,1)" fill="#1a1a1a"><text x="-0.94" y="0" font-size="12.5">1</text></g>
<line x1="152" y1="431.6" x2="152" y2="436.1" stroke="#1a1a1a" stroke-width="1.2"/>
<g transform="translate(145.44,451.8) scale(1.05,1)" fill="#1a1a1a"><text x="-0.94" y="0" font-size="12.5">10</text></g>
<line x1="199.6" y1="431.6" x2="199.6" y2="436.1" stroke="#1a1a1a" stroke-width="1.2"/>
<g transform="translate(189.4,451.8) scale(1.05,1)" fill="#1a1a1a"><text x="-0.94" y="0" font-size="12.5">100</text></g>
<line x1="93.84" y1="431.6" x2="93.84" y2="433.8" stroke="#1a1a1a" stroke-width="0.9"/>
<line x1="97.03" y1="431.6" x2="97.03" y2="433.8" stroke="#1a1a1a" stroke-width="0.9"/>
<line x1="99.79" y1="431.6" x2="99.79" y2="433.8" stroke="#1a1a1a" stroke-width="0.9"/>
<line x1="102.22" y1="431.6" x2="102.22" y2="433.8" stroke="#1a1a1a" stroke-width="0.9"/>
<line x1="118.73" y1="431.6" x2="118.73" y2="433.8" stroke="#1a1a1a" stroke-width="0.9"/>
<line x1="127.11" y1="431.6" x2="127.11" y2="433.8" stroke="#1a1a1a" stroke-width="0.9"/>
<line x1="133.06" y1="431.6" x2="133.06" y2="433.8" stroke="#1a1a1a" stroke-width="0.9"/>
<line x1="137.67" y1="431.6" x2="137.67" y2="433.8" stroke="#1a1a1a" stroke-width="0.9"/>
<line x1="141.44" y1="431.6" x2="141.44" y2="433.8" stroke="#1a1a1a" stroke-width="0.9"/>
<line x1="144.63" y1="431.6" x2="144.63" y2="433.8" stroke="#1a1a1a" stroke-width="0.9"/>
<line x1="147.39" y1="431.6" x2="147.39" y2="433.8" stroke="#1a1a1a" stroke-width="0.9"/>
<line x1="149.82" y1="431.6" x2="149.82" y2="433.8" stroke="#1a1a1a" stroke-width="0.9"/>
<line x1="166.33" y1="431.6" x2="166.33" y2="433.8" stroke="#1a1a1a" stroke-width="0.9"/>
<line x1="174.71" y1="431.6" x2="174.71" y2="433.8" stroke="#1a1a1a" stroke-width="0.9"/>
<line x1="180.66" y1="431.6" x2="180.66" y2="433.8" stroke="#1a1a1a" stroke-width="0.9"/>
<line x1="185.27" y1="431.6" x2="185.27" y2="433.8" stroke="#1a1a1a" stroke-width="0.9"/>
<line x1="189.04" y1="431.6" x2="189.04" y2="433.8" stroke="#1a1a1a" stroke-width="0.9"/>
<line x1="192.23" y1="431.6" x2="192.23" y2="433.8" stroke="#1a1a1a" stroke-width="0.9"/>
<line x1="194.99" y1="431.6" x2="194.99" y2="433.8" stroke="#1a1a1a" stroke-width="0.9"/>
<line x1="197.42" y1="431.6" x2="197.42" y2="433.8" stroke="#1a1a1a" stroke-width="0.9"/>
<line x1="213.93" y1="431.6" x2="213.93" y2="433.8" stroke="#1a1a1a" stroke-width="0.9"/>
<line x1="222.31" y1="431.6" x2="222.31" y2="433.8" stroke="#1a1a1a" stroke-width="0.9"/>
<line x1="228.26" y1="431.6" x2="228.26" y2="433.8" stroke="#1a1a1a" stroke-width="0.9"/>
<line x1="232.87" y1="431.6" x2="232.87" y2="433.8" stroke="#1a1a1a" stroke-width="0.9"/>
<line x1="236.64" y1="431.6" x2="236.64" y2="433.8" stroke="#1a1a1a" stroke-width="0.9"/>
<line x1="92" y1="362.7" x2="238" y2="362.7" stroke="#1a1a1a" stroke-width="1.3" stroke-dasharray="1.3 1.2"/>
<g transform="translate(128.8,473.5) scale(0.82,1)" fill="#1a1a1a"><text x="-0.68" y="0" font-size="15.2">S63845 (nM)</text></g>
<g transform="translate(50,397.6) rotate(-90) scale(0.77,1)" fill="#1a1a1a"><text x="-0.77" y="0" font-size="15.3">Cell death (%)</text></g>
<path d="M134.33,431.44L135.51,429.71L136.68,427.93L137.86,426.12L139.04,424.26L140.21,422.37L141.39,420.44L142.56,418.48L143.74,416.48L144.91,414.46L146.09,412.41L147.26,410.34L148.44,408.25L149.62,406.14L150.79,404.02L151.97,401.89L153.14,399.75L154.32,397.61L155.49,395.47L156.67,393.33L157.84,391.2L159.02,389.07L160.19,386.96L161.37,384.87L162.55,382.8L163.72,380.75L164.9,378.73L166.07,376.73L167.25,374.77L168.42,372.84L169.6,370.95L170.77,369.09L171.95,367.27L173.13,365.5L174.3,363.76L175.48,362.07L176.65,360.43L177.83,358.83L179,357.27L180.18,355.77L181.35,354.3L182.53,352.89L183.71,351.52L184.88,350.2L186.06,348.93L187.23,347.7L188.41,346.52L189.58,345.38L190.76,344.29L191.93,343.24L193.11,342.23L194.28,341.26L195.46,340.33L196.64,339.44L197.81,338.59L198.99,337.78L200.16,337L201.34,336.26L202.51,335.55L203.69,334.88L204.86,334.23L206.04,333.61L207.22,333.03L208.39,332.47L209.57,331.94L210.74,331.43L211.92,330.95L213.09,330.49L214.27,330.06L215.44,329.64L216.62,329.25L217.8,328.88L218.97,328.52L220.15,328.19L221.32,327.87L222.5,327.57L223.67,327.28L224.85,327.01L226.02,326.75L227.2,326.5L228.37,326.27L229.55,326.05L230.73,325.84L231.9,325.64L233.08,325.46" stroke="#261d75" stroke-width="1.4" fill="none"/>
<path d="M103.77,431.08L104.95,430.76L106.12,430.43L107.3,430.07L108.47,429.69L109.65,429.28L110.82,428.85L112,428.39L113.17,427.9L114.35,427.39L115.53,426.84L116.7,426.26L117.88,425.64L119.05,424.99L120.23,424.29L121.4,423.56L122.58,422.79L123.75,421.97L124.93,421.11L126.11,420.2L127.28,419.25L128.46,418.24L129.63,417.18L130.81,416.07L131.98,414.91L133.16,413.69L134.33,412.41L135.51,411.08L136.68,409.69L137.86,408.24L139.04,406.74L140.21,405.17L141.39,403.55L142.56,401.88L143.74,400.14L144.91,398.36L146.09,396.52L147.26,394.63L148.44,392.7L149.62,390.72L150.79,388.7L151.97,386.64L153.14,384.54L154.32,382.42L155.49,380.27L156.67,378.11L157.84,375.92L159.02,373.73L160.19,371.53L161.37,369.32L162.55,367.13L163.72,364.94L164.9,362.76L166.07,360.61L167.25,358.48L168.42,356.37L169.6,354.3L170.77,352.27L171.95,350.28L173.13,348.33L174.3,346.43L175.48,344.57L176.65,342.77L177.83,341.02L179,339.33L180.18,337.69L181.35,336.11L182.53,334.58L183.71,333.12L184.88,331.71L186.06,330.36L187.23,329.06L188.41,327.83L189.58,326.64L190.76,325.52L191.93,324.44L193.11,323.42L194.28,322.45L195.46,321.52L196.64,320.65L197.81,319.81L198.99,319.03L200.16,318.28L201.34,317.58L202.51,316.91L203.69,316.29L204.86,315.69L206.04,315.13L207.22,314.61L208.39,314.11L209.57,313.64L210.74,313.2L211.92,312.79L213.09,312.4L214.27,312.03L215.44,311.69L216.62,311.37L217.8,311.07L218.97,310.78L220.15,310.51L221.32,310.26L222.5,310.03L223.67,309.81L224.85,309.61L226.02,309.41L227.2,309.23L228.37,309.06L229.55,308.9L230.73,308.76L231.9,308.62L233.08,308.49" stroke="#261d75" stroke-width="1.4" fill="none"/>
<path d="M131.98,430L133.16,428.28L134.33,426.5L135.51,424.69L136.68,422.83L137.86,420.93L139.04,418.99L140.21,417.01L141.39,414.99L142.56,412.95L143.74,410.88L144.91,408.78L146.09,406.65L147.26,404.51L148.44,402.36L149.62,400.19L150.79,398.01L151.97,395.83L153.14,393.65L154.32,391.48L155.49,389.31L156.67,387.15L157.84,385.01L159.02,382.89L160.19,380.79L161.37,378.71L162.55,376.67L163.72,374.65L164.9,372.67L166.07,370.73L167.25,368.82L168.42,366.96L169.6,365.14L170.77,363.37L171.95,361.64L173.13,359.96L174.3,358.33L175.48,356.75L176.65,355.21L177.83,353.73L179,352.3L180.18,350.91L181.35,349.58L182.53,348.3L183.71,347.06L184.88,345.88L186.06,344.74L187.23,343.65L188.41,342.6L189.58,341.6L190.76,340.64L191.93,339.72L193.11,338.84L194.28,338.01L195.46,337.21L196.64,336.45L197.81,335.73L198.99,335.04L200.16,334.38L201.34,333.76L202.51,333.16L203.69,332.6L204.86,332.07L206.04,331.56L207.22,331.08L208.39,330.62L209.57,330.19L210.74,329.77L211.92,329.38L213.09,329.02L214.27,328.67L215.44,328.34L216.62,328.02L217.8,327.73L218.97,327.45L220.15,327.18L221.32,326.93L222.5,326.7L223.67,326.47L224.85,326.26L226.02,326.06L227.2,325.87L228.37,325.7L229.55,325.53L230.73,325.37L231.9,325.22L233.08,325.08" stroke="#261d75" stroke-width="1.4" fill="none"/>
<path d="M127.28,431.22L128.46,430.79L129.63,430.33L130.81,429.85L131.98,429.35L133.16,428.81L134.33,428.25L135.51,427.66L136.68,427.05L137.86,426.39L139.04,425.71L140.21,425L141.39,424.25L142.56,423.46L143.74,422.64L144.91,421.78L146.09,420.89L147.26,419.95L148.44,418.98L149.62,417.97L150.79,416.92L151.97,415.82L153.14,414.69L154.32,413.52L155.49,412.3L156.67,411.05L157.84,409.76L159.02,408.43L160.19,407.06L161.37,405.66L162.55,404.22L163.72,402.75L164.9,401.25L166.07,399.71L167.25,398.15L168.42,396.57L169.6,394.96L170.77,393.33L171.95,391.68L173.13,390.02L174.3,388.35L175.48,386.67L176.65,384.99L177.83,383.3L179,381.61L180.18,379.93L181.35,378.26L182.53,376.6L183.71,374.95L184.88,373.32L186.06,371.71L187.23,370.12L188.41,368.56L189.58,367.02L190.76,365.52L191.93,364.04L193.11,362.6L194.28,361.19L195.46,359.82L196.64,358.49L197.81,357.19L198.99,355.94L200.16,354.72L201.34,353.54L202.51,352.41L203.69,351.31L204.86,350.25L206.04,349.24L207.22,348.26L208.39,347.32L209.57,346.42L210.74,345.56L211.92,344.74L213.09,343.95L214.27,343.2L215.44,342.48L216.62,341.79L217.8,341.14L218.97,340.51L220.15,339.92L221.32,339.36L222.5,338.82L223.67,338.31L224.85,337.83L226.02,337.37L227.2,336.94L228.37,336.53L229.55,336.14L230.73,335.77L231.9,335.42L233.08,335.09" stroke="#261d75" stroke-width="1.4" fill="none"/>
<path d="M146.76,429.86L147.54,429.76L148.33,429.65L149.11,429.54L149.9,429.42L150.68,429.3L151.47,429.16L152.25,429.02L153.04,428.88L153.82,428.72L154.6,428.56L155.39,428.38L156.17,428.2L156.96,428L157.74,427.8L158.53,427.58L159.31,427.36L160.1,427.11L160.88,426.86L161.67,426.59L162.45,426.31L163.24,426.01L164.02,425.7L164.81,425.37L165.59,425.03L166.38,424.66L167.16,424.28L167.94,423.87L168.73,423.44L169.51,423L170.3,422.53L171.08,422.03L171.87,421.51L172.65,420.97L173.44,420.4L174.22,419.8L175.01,419.17L175.79,418.52L176.58,417.83L177.36,417.11L178.15,416.35L178.93,415.57L179.72,414.74L180.5,413.89L181.29,412.99L182.07,412.06L182.85,411.09L183.64,410.08L184.42,409.03L185.21,407.94L185.99,406.8L186.78,405.63L187.56,404.41L188.35,403.16L189.13,401.86L189.92,400.52L190.7,399.13L191.49,397.71L192.27,396.24L193.06,394.74L193.84,393.19L194.63,391.61L195.41,389.98L196.19,388.33L196.98,386.64L197.76,384.91L198.55,383.16L199.33,381.38L200.12,379.57L200.9,377.73L201.69,375.88L202.47,374.01L203.26,372.12L204.04,370.22L204.83,368.31L205.61,366.39L206.4,364.47L207.18,362.55L207.97,360.63L208.75,358.71L209.54,356.81L210.32,354.91L211.1,353.03L211.89,351.17L212.67,349.33L213.46,347.51L214.24,345.72L215.03,343.95L215.81,342.22L216.6,340.51L217.38,338.84L218.17,337.2L218.95,335.61L219.74,334.04L220.52,332.52L221.31,331.04L222.09,329.6L222.88,328.2L223.66,326.84L224.44,325.52L225.23,324.25L226.01,323.02L226.8,321.82L227.58,320.68L228.37,319.57L229.15,318.5L229.94,317.48L230.72,316.49L231.51,315.54L232.29,314.63L233.08,313.76" stroke="#e2361c" stroke-width="1.4" fill="none"/>
<path d="M146.76,430.3L147.54,430.22L148.33,430.14L149.11,430.06L149.9,429.97L150.68,429.87L151.47,429.77L152.25,429.67L153.04,429.55L153.82,429.44L154.6,429.31L155.39,429.18L156.17,429.04L156.96,428.89L157.74,428.74L158.53,428.58L159.31,428.4L160.1,428.22L160.88,428.03L161.67,427.82L162.45,427.61L163.24,427.38L164.02,427.14L164.81,426.89L165.59,426.63L166.38,426.35L167.16,426.05L167.94,425.74L168.73,425.41L169.51,425.07L170.3,424.7L171.08,424.32L171.87,423.92L172.65,423.49L173.44,423.05L174.22,422.58L175.01,422.09L175.79,421.58L176.58,421.03L177.36,420.47L178.15,419.87L178.93,419.25L179.72,418.59L180.5,417.91L181.29,417.19L182.07,416.44L182.85,415.66L183.64,414.84L184.42,413.99L185.21,413.09L185.99,412.17L186.78,411.2L187.56,410.19L188.35,409.15L189.13,408.06L189.92,406.94L190.7,405.77L191.49,404.56L192.27,403.3L193.06,402.01L193.84,400.67L194.63,399.29L195.41,397.87L196.19,396.41L196.98,394.91L197.76,393.37L198.55,391.79L199.33,390.17L200.12,388.52L200.9,386.83L201.69,385.11L202.47,383.36L203.26,381.58L204.04,379.78L204.83,377.95L205.61,376.09L206.4,374.22L207.18,372.34L207.97,370.44L208.75,368.53L209.54,366.61L210.32,364.69L211.1,362.77L211.89,360.85L212.67,358.93L213.46,357.03L214.24,355.13L215.03,353.25L215.81,351.39L216.6,349.54L217.38,347.72L218.17,345.92L218.95,344.15L219.74,342.41L220.52,340.71L221.31,339.03L222.09,337.39L222.88,335.79L223.66,334.22L224.44,332.69L225.23,331.21L226.01,329.76L226.8,328.36L227.58,326.99L228.37,325.67L229.15,324.39L229.94,323.15L230.72,321.96L231.51,320.81L232.29,319.69L233.08,318.62" stroke="#e2361c" stroke-width="1.4" fill="none"/>
<path d="M146.76,430.78L147.54,430.73L148.33,430.67L149.11,430.62L149.9,430.55L150.68,430.49L151.47,430.42L152.25,430.35L153.04,430.27L153.82,430.19L154.6,430.1L155.39,430.01L156.17,429.91L156.96,429.8L157.74,429.69L158.53,429.58L159.31,429.45L160.1,429.32L160.88,429.18L161.67,429.03L162.45,428.87L163.24,428.7L164.02,428.53L164.81,428.34L165.59,428.14L166.38,427.93L167.16,427.71L167.94,427.47L168.73,427.22L169.51,426.95L170.3,426.67L171.08,426.38L171.87,426.06L172.65,425.73L173.44,425.38L174.22,425.01L175.01,424.62L175.79,424.2L176.58,423.77L177.36,423.31L178.15,422.82L178.93,422.31L179.72,421.77L180.5,421.2L181.29,420.6L182.07,419.97L182.85,419.3L183.64,418.61L184.42,417.87L185.21,417.1L185.99,416.3L186.78,415.45L187.56,414.57L188.35,413.64L189.13,412.67L189.92,411.65L190.7,410.6L191.49,409.49L192.27,408.34L193.06,407.14L193.84,405.9L194.63,404.6L195.41,403.26L196.19,401.87L196.98,400.43L197.76,398.94L198.55,397.4L199.33,395.81L200.12,394.18L200.9,392.5L201.69,390.78L202.47,389.02L203.26,387.21L204.04,385.36L204.83,383.48L205.61,381.56L206.4,379.61L207.18,377.63L207.97,375.62L208.75,373.59L209.54,371.54L210.32,369.47L211.1,367.4L211.89,365.31L212.67,363.22L213.46,361.13L214.24,359.04L215.03,356.96L215.81,354.88L216.6,352.83L217.38,350.79L218.17,348.77L218.95,346.77L219.74,344.81L220.52,342.87L221.31,340.97L222.09,339.1L222.88,337.28L223.66,335.49L224.44,333.75L225.23,332.04L226.01,330.39L226.8,328.78L227.58,327.22L228.37,325.71L229.15,324.24L229.94,322.83L230.72,321.46L231.51,320.14L232.29,318.87L233.08,317.65" stroke="#e2361c" stroke-width="1.4" fill="none"/>
<line x1="147.39" y1="405.42" x2="147.39" y2="416.44" stroke="#261d75" stroke-width="1.1"/>
<line x1="144.99" y1="405.42" x2="149.79" y2="405.42" stroke="#261d75" stroke-width="1.1"/>
<line x1="144.99" y1="416.44" x2="149.79" y2="416.44" stroke="#261d75" stroke-width="1.1"/>
<line x1="161.72" y1="376.48" x2="161.72" y2="390.26" stroke="#261d75" stroke-width="1.1"/>
<line x1="159.32" y1="376.48" x2="164.12" y2="376.48" stroke="#261d75" stroke-width="1.1"/>
<line x1="159.32" y1="390.26" x2="164.12" y2="390.26" stroke="#261d75" stroke-width="1.1"/>
<line x1="175.55" y1="357.19" x2="175.55" y2="370.97" stroke="#261d75" stroke-width="1.1"/>
<line x1="173.15" y1="357.19" x2="177.95" y2="357.19" stroke="#261d75" stroke-width="1.1"/>
<line x1="173.15" y1="370.97" x2="177.95" y2="370.97" stroke="#261d75" stroke-width="1.1"/>
<line x1="189.88" y1="337.9" x2="189.88" y2="354.43" stroke="#261d75" stroke-width="1.1"/>
<line x1="187.48" y1="337.9" x2="192.28" y2="337.9" stroke="#261d75" stroke-width="1.1"/>
<line x1="187.48" y1="354.43" x2="192.28" y2="354.43" stroke="#261d75" stroke-width="1.1"/>
<line x1="204.21" y1="325.49" x2="204.21" y2="344.79" stroke="#261d75" stroke-width="1.1"/>
<line x1="201.81" y1="325.49" x2="206.61" y2="325.49" stroke="#261d75" stroke-width="1.1"/>
<line x1="201.81" y1="344.79" x2="206.61" y2="344.79" stroke="#261d75" stroke-width="1.1"/>
<line x1="218.54" y1="314.47" x2="218.54" y2="336.52" stroke="#261d75" stroke-width="1.1"/>
<line x1="216.14" y1="314.47" x2="220.94" y2="314.47" stroke="#261d75" stroke-width="1.1"/>
<line x1="216.14" y1="336.52" x2="220.94" y2="336.52" stroke="#261d75" stroke-width="1.1"/>
<line x1="232.87" y1="315.85" x2="232.87" y2="340.65" stroke="#261d75" stroke-width="1.1"/>
<line x1="230.47" y1="315.85" x2="235.27" y2="315.85" stroke="#261d75" stroke-width="1.1"/>
<line x1="230.47" y1="340.65" x2="235.27" y2="340.65" stroke="#261d75" stroke-width="1.1"/>
<line x1="147.39" y1="381.3" x2="147.39" y2="400.6" stroke="#261d75" stroke-width="1.1"/>
<line x1="144.99" y1="381.3" x2="149.79" y2="381.3" stroke="#261d75" stroke-width="1.1"/>
<line x1="144.99" y1="400.6" x2="149.79" y2="400.6" stroke="#261d75" stroke-width="1.1"/>
<line x1="161.72" y1="353.05" x2="161.72" y2="377.86" stroke="#261d75" stroke-width="1.1"/>
<line x1="159.32" y1="353.05" x2="164.12" y2="353.05" stroke="#261d75" stroke-width="1.1"/>
<line x1="159.32" y1="377.86" x2="164.12" y2="377.86" stroke="#261d75" stroke-width="1.1"/>
<line x1="175.55" y1="330.18" x2="175.55" y2="352.23" stroke="#261d75" stroke-width="1.1"/>
<line x1="173.15" y1="330.18" x2="177.95" y2="330.18" stroke="#261d75" stroke-width="1.1"/>
<line x1="173.15" y1="352.23" x2="177.95" y2="352.23" stroke="#261d75" stroke-width="1.1"/>
<line x1="189.88" y1="314.88" x2="189.88" y2="334.18" stroke="#261d75" stroke-width="1.1"/>
<line x1="187.48" y1="314.88" x2="192.28" y2="314.88" stroke="#261d75" stroke-width="1.1"/>
<line x1="187.48" y1="334.18" x2="192.28" y2="334.18" stroke="#261d75" stroke-width="1.1"/>
<line x1="204.21" y1="304.13" x2="204.21" y2="323.43" stroke="#261d75" stroke-width="1.1"/>
<line x1="201.81" y1="304.13" x2="206.61" y2="304.13" stroke="#261d75" stroke-width="1.1"/>
<line x1="201.81" y1="323.43" x2="206.61" y2="323.43" stroke="#261d75" stroke-width="1.1"/>
<line x1="218.54" y1="299.31" x2="218.54" y2="318.6" stroke="#261d75" stroke-width="1.1"/>
<line x1="216.14" y1="299.31" x2="220.94" y2="299.31" stroke="#261d75" stroke-width="1.1"/>
<line x1="216.14" y1="318.6" x2="220.94" y2="318.6" stroke="#261d75" stroke-width="1.1"/>
<line x1="232.87" y1="299.31" x2="232.87" y2="318.6" stroke="#261d75" stroke-width="1.1"/>
<line x1="230.47" y1="299.31" x2="235.27" y2="299.31" stroke="#261d75" stroke-width="1.1"/>
<line x1="230.47" y1="318.6" x2="235.27" y2="318.6" stroke="#261d75" stroke-width="1.1"/>
<line x1="147.39" y1="397.56" x2="147.39" y2="411.34" stroke="#261d75" stroke-width="1.1"/>
<line x1="144.99" y1="397.56" x2="149.79" y2="397.56" stroke="#261d75" stroke-width="1.1"/>
<line x1="144.99" y1="411.34" x2="149.79" y2="411.34" stroke="#261d75" stroke-width="1.1"/>
<line x1="161.72" y1="369.59" x2="161.72" y2="386.13" stroke="#261d75" stroke-width="1.1"/>
<line x1="159.32" y1="369.59" x2="164.12" y2="369.59" stroke="#261d75" stroke-width="1.1"/>
<line x1="159.32" y1="386.13" x2="164.12" y2="386.13" stroke="#261d75" stroke-width="1.1"/>
<line x1="175.55" y1="348.92" x2="175.55" y2="365.46" stroke="#261d75" stroke-width="1.1"/>
<line x1="173.15" y1="348.92" x2="177.95" y2="348.92" stroke="#261d75" stroke-width="1.1"/>
<line x1="173.15" y1="365.46" x2="177.95" y2="365.46" stroke="#261d75" stroke-width="1.1"/>
<line x1="189.88" y1="332.38" x2="189.88" y2="348.92" stroke="#261d75" stroke-width="1.1"/>
<line x1="187.48" y1="332.38" x2="192.28" y2="332.38" stroke="#261d75" stroke-width="1.1"/>
<line x1="187.48" y1="348.92" x2="192.28" y2="348.92" stroke="#261d75" stroke-width="1.1"/>
<line x1="204.21" y1="323.43" x2="204.21" y2="342.72" stroke="#261d75" stroke-width="1.1"/>
<line x1="201.81" y1="323.43" x2="206.61" y2="323.43" stroke="#261d75" stroke-width="1.1"/>
<line x1="201.81" y1="342.72" x2="206.61" y2="342.72" stroke="#261d75" stroke-width="1.1"/>
<line x1="218.54" y1="313.92" x2="218.54" y2="338.72" stroke="#261d75" stroke-width="1.1"/>
<line x1="216.14" y1="313.92" x2="220.94" y2="313.92" stroke="#261d75" stroke-width="1.1"/>
<line x1="216.14" y1="338.72" x2="220.94" y2="338.72" stroke="#261d75" stroke-width="1.1"/>
<line x1="232.87" y1="313.09" x2="232.87" y2="337.9" stroke="#261d75" stroke-width="1.1"/>
<line x1="230.47" y1="313.09" x2="235.27" y2="313.09" stroke="#261d75" stroke-width="1.1"/>
<line x1="230.47" y1="337.9" x2="235.27" y2="337.9" stroke="#261d75" stroke-width="1.1"/>
<line x1="147.39" y1="415.06" x2="147.39" y2="423.33" stroke="#261d75" stroke-width="1.1"/>
<line x1="144.99" y1="415.06" x2="149.79" y2="415.06" stroke="#261d75" stroke-width="1.1"/>
<line x1="144.99" y1="423.33" x2="149.79" y2="423.33" stroke="#261d75" stroke-width="1.1"/>
<line x1="161.72" y1="401.28" x2="161.72" y2="412.31" stroke="#261d75" stroke-width="1.1"/>
<line x1="159.32" y1="401.28" x2="164.12" y2="401.28" stroke="#261d75" stroke-width="1.1"/>
<line x1="159.32" y1="412.31" x2="164.12" y2="412.31" stroke="#261d75" stroke-width="1.1"/>
<line x1="175.55" y1="379.24" x2="175.55" y2="390.26" stroke="#261d75" stroke-width="1.1"/>
<line x1="173.15" y1="379.24" x2="177.95" y2="379.24" stroke="#261d75" stroke-width="1.1"/>
<line x1="173.15" y1="390.26" x2="177.95" y2="390.26" stroke="#261d75" stroke-width="1.1"/>
<line x1="189.88" y1="360.63" x2="189.88" y2="374.41" stroke="#261d75" stroke-width="1.1"/>
<line x1="187.48" y1="360.63" x2="192.28" y2="360.63" stroke="#261d75" stroke-width="1.1"/>
<line x1="187.48" y1="374.41" x2="192.28" y2="374.41" stroke="#261d75" stroke-width="1.1"/>
<line x1="204.21" y1="343.68" x2="204.21" y2="360.22" stroke="#261d75" stroke-width="1.1"/>
<line x1="201.81" y1="343.68" x2="206.61" y2="343.68" stroke="#261d75" stroke-width="1.1"/>
<line x1="201.81" y1="360.22" x2="206.61" y2="360.22" stroke="#261d75" stroke-width="1.1"/>
<line x1="218.54" y1="327.42" x2="218.54" y2="352.23" stroke="#261d75" stroke-width="1.1"/>
<line x1="216.14" y1="327.42" x2="220.94" y2="327.42" stroke="#261d75" stroke-width="1.1"/>
<line x1="216.14" y1="352.23" x2="220.94" y2="352.23" stroke="#261d75" stroke-width="1.1"/>
<line x1="232.87" y1="322.05" x2="232.87" y2="349.61" stroke="#261d75" stroke-width="1.1"/>
<line x1="230.47" y1="322.05" x2="235.27" y2="322.05" stroke="#261d75" stroke-width="1.1"/>
<line x1="230.47" y1="349.61" x2="235.27" y2="349.61" stroke="#261d75" stroke-width="1.1"/>
<line x1="161.72" y1="423.33" x2="161.72" y2="428.84" stroke="#e2361c" stroke-width="1.1"/>
<line x1="159.32" y1="423.33" x2="164.12" y2="423.33" stroke="#e2361c" stroke-width="1.1"/>
<line x1="159.32" y1="428.84" x2="164.12" y2="428.84" stroke="#e2361c" stroke-width="1.1"/>
<line x1="175.55" y1="412.31" x2="175.55" y2="420.58" stroke="#e2361c" stroke-width="1.1"/>
<line x1="173.15" y1="412.31" x2="177.95" y2="412.31" stroke="#e2361c" stroke-width="1.1"/>
<line x1="173.15" y1="420.58" x2="177.95" y2="420.58" stroke="#e2361c" stroke-width="1.1"/>
<line x1="189.88" y1="396.32" x2="189.88" y2="404.59" stroke="#e2361c" stroke-width="1.1"/>
<line x1="187.48" y1="396.32" x2="192.28" y2="396.32" stroke="#e2361c" stroke-width="1.1"/>
<line x1="187.48" y1="404.59" x2="192.28" y2="404.59" stroke="#e2361c" stroke-width="1.1"/>
<line x1="204.21" y1="368.21" x2="204.21" y2="381.99" stroke="#e2361c" stroke-width="1.1"/>
<line x1="201.81" y1="368.21" x2="206.61" y2="368.21" stroke="#e2361c" stroke-width="1.1"/>
<line x1="201.81" y1="381.99" x2="206.61" y2="381.99" stroke="#e2361c" stroke-width="1.1"/>
<line x1="218.54" y1="324.53" x2="218.54" y2="346.58" stroke="#e2361c" stroke-width="1.1"/>
<line x1="216.14" y1="324.53" x2="220.94" y2="324.53" stroke="#e2361c" stroke-width="1.1"/>
<line x1="216.14" y1="346.58" x2="220.94" y2="346.58" stroke="#e2361c" stroke-width="1.1"/>
<line x1="232.87" y1="306.2" x2="232.87" y2="319.98" stroke="#e2361c" stroke-width="1.1"/>
<line x1="230.47" y1="306.2" x2="235.27" y2="306.2" stroke="#e2361c" stroke-width="1.1"/>
<line x1="230.47" y1="319.98" x2="235.27" y2="319.98" stroke="#e2361c" stroke-width="1.1"/>
<line x1="147.39" y1="426.09" x2="147.39" y2="428.84" stroke="#e2361c" stroke-width="1.1"/>
<line x1="144.99" y1="426.09" x2="149.79" y2="426.09" stroke="#e2361c" stroke-width="1.1"/>
<line x1="144.99" y1="428.84" x2="149.79" y2="428.84" stroke="#e2361c" stroke-width="1.1"/>
<line x1="161.72" y1="419.61" x2="161.72" y2="425.12" stroke="#e2361c" stroke-width="1.1"/>
<line x1="159.32" y1="419.61" x2="164.12" y2="419.61" stroke="#e2361c" stroke-width="1.1"/>
<line x1="159.32" y1="425.12" x2="164.12" y2="425.12" stroke="#e2361c" stroke-width="1.1"/>
<line x1="175.55" y1="411.34" x2="175.55" y2="419.61" stroke="#e2361c" stroke-width="1.1"/>
<line x1="173.15" y1="411.34" x2="177.95" y2="411.34" stroke="#e2361c" stroke-width="1.1"/>
<line x1="173.15" y1="419.61" x2="177.95" y2="419.61" stroke="#e2361c" stroke-width="1.1"/>
<line x1="189.88" y1="395.77" x2="189.88" y2="406.8" stroke="#e2361c" stroke-width="1.1"/>
<line x1="187.48" y1="395.77" x2="192.28" y2="395.77" stroke="#e2361c" stroke-width="1.1"/>
<line x1="187.48" y1="406.8" x2="192.28" y2="406.8" stroke="#e2361c" stroke-width="1.1"/>
<line x1="204.21" y1="373.72" x2="204.21" y2="387.5" stroke="#e2361c" stroke-width="1.1"/>
<line x1="201.81" y1="373.72" x2="206.61" y2="373.72" stroke="#e2361c" stroke-width="1.1"/>
<line x1="201.81" y1="387.5" x2="206.61" y2="387.5" stroke="#e2361c" stroke-width="1.1"/>
<line x1="218.54" y1="342.44" x2="218.54" y2="364.49" stroke="#e2361c" stroke-width="1.1"/>
<line x1="216.14" y1="342.44" x2="220.94" y2="342.44" stroke="#e2361c" stroke-width="1.1"/>
<line x1="216.14" y1="364.49" x2="220.94" y2="364.49" stroke="#e2361c" stroke-width="1.1"/>
<line x1="232.87" y1="308.96" x2="232.87" y2="325.49" stroke="#e2361c" stroke-width="1.1"/>
<line x1="230.47" y1="308.96" x2="235.27" y2="308.96" stroke="#e2361c" stroke-width="1.1"/>
<line x1="230.47" y1="325.49" x2="235.27" y2="325.49" stroke="#e2361c" stroke-width="1.1"/>
<line x1="161.72" y1="424.71" x2="161.72" y2="430.22" stroke="#e2361c" stroke-width="1.1"/>
<line x1="159.32" y1="424.71" x2="164.12" y2="424.71" stroke="#e2361c" stroke-width="1.1"/>
<line x1="159.32" y1="430.22" x2="164.12" y2="430.22" stroke="#e2361c" stroke-width="1.1"/>
<line x1="175.55" y1="415.06" x2="175.55" y2="423.33" stroke="#e2361c" stroke-width="1.1"/>
<line x1="173.15" y1="415.06" x2="177.95" y2="415.06" stroke="#e2361c" stroke-width="1.1"/>
<line x1="173.15" y1="423.33" x2="177.95" y2="423.33" stroke="#e2361c" stroke-width="1.1"/>
<line x1="189.88" y1="408.73" x2="189.88" y2="416.99" stroke="#e2361c" stroke-width="1.1"/>
<line x1="187.48" y1="408.73" x2="192.28" y2="408.73" stroke="#e2361c" stroke-width="1.1"/>
<line x1="187.48" y1="416.99" x2="192.28" y2="416.99" stroke="#e2361c" stroke-width="1.1"/>
<line x1="204.21" y1="378.27" x2="204.21" y2="394.81" stroke="#e2361c" stroke-width="1.1"/>
<line x1="201.81" y1="378.27" x2="206.61" y2="378.27" stroke="#e2361c" stroke-width="1.1"/>
<line x1="201.81" y1="394.81" x2="206.61" y2="394.81" stroke="#e2361c" stroke-width="1.1"/>
<line x1="218.54" y1="335.55" x2="218.54" y2="360.36" stroke="#e2361c" stroke-width="1.1"/>
<line x1="216.14" y1="335.55" x2="220.94" y2="335.55" stroke="#e2361c" stroke-width="1.1"/>
<line x1="216.14" y1="360.36" x2="220.94" y2="360.36" stroke="#e2361c" stroke-width="1.1"/>
<line x1="232.87" y1="302.34" x2="232.87" y2="316.12" stroke="#e2361c" stroke-width="1.1"/>
<line x1="230.47" y1="302.34" x2="235.27" y2="302.34" stroke="#e2361c" stroke-width="1.1"/>
<line x1="230.47" y1="316.12" x2="235.27" y2="316.12" stroke="#e2361c" stroke-width="1.1"/>
<circle cx="104.4" cy="431.6" r="2.5" fill="#fff" stroke="#261d75" stroke-width="1.4"/>
<circle cx="147.39" cy="410.93" r="2.5" fill="#fff" stroke="#261d75" stroke-width="1.4"/>
<circle cx="161.72" cy="383.37" r="2.5" fill="#fff" stroke="#261d75" stroke-width="1.4"/>
<circle cx="175.55" cy="364.08" r="2.5" fill="#fff" stroke="#261d75" stroke-width="1.4"/>
<circle cx="189.88" cy="346.16" r="2.5" fill="#fff" stroke="#261d75" stroke-width="1.4"/>
<circle cx="204.21" cy="335.14" r="2.5" fill="#fff" stroke="#261d75" stroke-width="1.4"/>
<circle cx="218.54" cy="325.49" r="2.5" fill="#fff" stroke="#261d75" stroke-width="1.4"/>
<circle cx="232.87" cy="328.25" r="2.5" fill="#fff" stroke="#261d75" stroke-width="1.4"/>
<path d="M104.4,428.61L107.26,433.81L101.54,433.81Z" fill="#261d75"/>
<path d="M147.39,387.96L150.25,393.16L144.53,393.16Z" fill="#261d75"/>
<path d="M161.72,362.47L164.58,367.67L158.86,367.67Z" fill="#261d75"/>
<path d="M175.55,338.21L178.41,343.41L172.69,343.41Z" fill="#261d75"/>
<path d="M189.88,321.54L192.74,326.74L187.02,326.74Z" fill="#261d75"/>
<path d="M204.21,310.79L207.07,315.99L201.35,315.99Z" fill="#261d75"/>
<path d="M218.54,305.97L221.4,311.17L215.68,311.17Z" fill="#261d75"/>
<path d="M232.87,305.97L235.73,311.17L230.01,311.17Z" fill="#261d75"/>
<circle cx="104.4" cy="431.6" r="3.2" fill="#261d75"/>
<circle cx="147.39" cy="404.45" r="3.2" fill="#261d75"/>
<circle cx="161.72" cy="377.86" r="3.2" fill="#261d75"/>
<circle cx="175.55" cy="357.19" r="3.2" fill="#261d75"/>
<circle cx="189.88" cy="340.65" r="3.2" fill="#261d75"/>
<circle cx="204.21" cy="333.07" r="3.2" fill="#261d75"/>
<circle cx="218.54" cy="326.32" r="3.2" fill="#261d75"/>
<circle cx="232.87" cy="325.49" r="3.2" fill="#261d75"/>
<rect x="101.5" y="428.7" width="5.8" height="5.8" fill="#261d75"/>
<rect x="144.49" y="416.3" width="5.8" height="5.8" fill="#261d75"/>
<rect x="158.82" y="403.9" width="5.8" height="5.8" fill="#261d75"/>
<rect x="172.65" y="381.85" width="5.8" height="5.8" fill="#261d75"/>
<rect x="186.98" y="364.62" width="5.8" height="5.8" fill="#261d75"/>
<rect x="201.31" y="349.05" width="5.8" height="5.8" fill="#261d75"/>
<rect x="215.64" y="336.93" width="5.8" height="5.8" fill="#261d75"/>
<rect x="229.97" y="332.93" width="5.8" height="5.8" fill="#261d75"/>
<circle cx="147.39" cy="430.22" r="3.2" fill="#e2361c"/>
<circle cx="161.72" cy="426.09" r="3.2" fill="#e2361c"/>
<circle cx="175.55" cy="416.44" r="3.2" fill="#e2361c"/>
<circle cx="189.88" cy="400.46" r="3.2" fill="#e2361c"/>
<circle cx="204.21" cy="375.1" r="3.2" fill="#e2361c"/>
<circle cx="218.54" cy="335.55" r="3.2" fill="#e2361c"/>
<circle cx="232.87" cy="313.09" r="3.2" fill="#e2361c"/>
<rect x="144.49" y="424.57" width="5.8" height="5.8" fill="#e2361c"/>
<rect x="158.82" y="419.47" width="5.8" height="5.8" fill="#e2361c"/>
<rect x="172.65" y="412.58" width="5.8" height="5.8" fill="#e2361c"/>
<rect x="186.98" y="398.38" width="5.8" height="5.8" fill="#e2361c"/>
<rect x="201.31" y="377.71" width="5.8" height="5.8" fill="#e2361c"/>
<rect x="215.64" y="350.57" width="5.8" height="5.8" fill="#e2361c"/>
<rect x="229.97" y="314.33" width="5.8" height="5.8" fill="#e2361c"/>
<path d="M147.39,427.92L150.25,433.12L144.53,433.12Z" fill="#e2361c"/>
<path d="M161.72,424.48L164.58,429.68L158.86,429.68Z" fill="#e2361c"/>
<path d="M175.55,416.21L178.41,421.41L172.69,421.41Z" fill="#e2361c"/>
<path d="M189.88,409.87L192.74,415.07L187.02,415.07Z" fill="#e2361c"/>
<path d="M204.21,383.55L207.07,388.75L201.35,388.75Z" fill="#e2361c"/>
<path d="M218.54,344.97L221.4,350.17L215.68,350.17Z" fill="#e2361c"/>
<path d="M232.87,306.24L235.73,311.44L230.01,311.44Z" fill="#e2361c"/>
<line x1="316.5" y1="57.5" x2="316.5" y2="199.35" stroke="#1a1a1a" stroke-width="1.3"/>
<line x1="311.5" y1="198.7" x2="385.2" y2="198.7" stroke="#1a1a1a" stroke-width="1.3"/>
<line x1="311.5" y1="198.7" x2="316.5" y2="198.7" stroke="#1a1a1a" stroke-width="1.2"/>
<g transform="translate(300.61,203) scale(1,1)" fill="#1a1a1a"><text x="-0.62" y="0" font-size="12.5">2</text></g>
<line x1="311.5" y1="181.6" x2="316.5" y2="181.6" stroke="#1a1a1a" stroke-width="1.2"/>
<g transform="translate(299.93,185.9) scale(1,1)" fill="#1a1a1a"><text x="-0.25" y="0" font-size="12.5">4</text></g>
<line x1="311.5" y1="164.5" x2="316.5" y2="164.5" stroke="#1a1a1a" stroke-width="1.2"/>
<g transform="translate(300.43,168.8) scale(1,1)" fill="#1a1a1a"><text x="-0.56" y="0" font-size="12.5">8</text></g>
<line x1="311.5" y1="147.4" x2="316.5" y2="147.4" stroke="#1a1a1a" stroke-width="1.2"/>
<g transform="translate(293.86,151.7) scale(1,1)" fill="#1a1a1a"><text x="-0.94" y="0" font-size="12.5">16</text></g>
<line x1="311.5" y1="130.3" x2="316.5" y2="130.3" stroke="#1a1a1a" stroke-width="1.2"/>
<g transform="translate(293.55,134.6) scale(1,1)" fill="#1a1a1a"><text x="-0.5" y="0" font-size="12.5">32</text></g>
<line x1="311.5" y1="113.2" x2="316.5" y2="113.2" stroke="#1a1a1a" stroke-width="1.2"/>
<g transform="translate(293.36,117.5) scale(1,1)" fill="#1a1a1a"><text x="-0.62" y="0" font-size="12.5">64</text></g>
<line x1="311.5" y1="96.1" x2="316.5" y2="96.1" stroke="#1a1a1a" stroke-width="1.2"/>
<g transform="translate(286.93,100.4) scale(1,1)" fill="#1a1a1a"><text x="-0.94" y="0" font-size="12.5">128</text></g>
<line x1="311.5" y1="79" x2="316.5" y2="79" stroke="#1a1a1a" stroke-width="1.2"/>
<g transform="translate(286.61,83.3) scale(1,1)" fill="#1a1a1a"><text x="-0.62" y="0" font-size="12.5">256</text></g>
<line x1="311.5" y1="61.9" x2="316.5" y2="61.9" stroke="#1a1a1a" stroke-width="1.2"/>
<g transform="translate(286.61,66.2) scale(1,1)" fill="#1a1a1a"><text x="-0.5" y="0" font-size="12.5">512</text></g>
<line x1="351.2" y1="198.7" x2="351.2" y2="203.4" stroke="#1a1a1a" stroke-width="1.2"/>
<g transform="translate(324.6,221.7) scale(0.83,1)" fill="#1a1a1a"><text x="-1.16" y="0" font-size="14.5">NCI-H929</text></g>
<g transform="translate(273.6,176.9) rotate(-90) scale(0.8,1)" fill="#1a1a1a"><text x="-1.24" y="0" font-size="15.5">LD</text><text x="18.57" y="3.41" font-size="12.09">50</text><text x="32.02" y="0" font-size="15.5"> S63845 (nM)</text></g>
<line x1="322.8" y1="150.8" x2="322.8" y2="158.8" stroke="#261d75" stroke-width="1.2"/>
<line x1="320.2" y1="150.8" x2="325.4" y2="150.8" stroke="#261d75" stroke-width="1.2"/>
<line x1="320.2" y1="158.8" x2="325.4" y2="158.8" stroke="#261d75" stroke-width="1.2"/>
<circle cx="322.8" cy="154.5" r="2" fill="#fff" stroke="#261d75" stroke-width="1.4"/>
<line x1="331.9" y1="164.6" x2="331.9" y2="181.3" stroke="#261d75" stroke-width="1.2"/>
<line x1="329.3" y1="164.6" x2="334.5" y2="164.6" stroke="#261d75" stroke-width="1.2"/>
<line x1="329.3" y1="181.3" x2="334.5" y2="181.3" stroke="#261d75" stroke-width="1.2"/>
<circle cx="331.9" cy="171.7" r="2.7" fill="#261d75"/>
<line x1="341.3" y1="164.6" x2="341.3" y2="181.3" stroke="#261d75" stroke-width="1.2"/>
<line x1="338.7" y1="164.6" x2="343.9" y2="164.6" stroke="#261d75" stroke-width="1.2"/>
<line x1="338.7" y1="181.3" x2="343.9" y2="181.3" stroke="#261d75" stroke-width="1.2"/>
<rect x="338.6" y="169" width="5.4" height="5.4" fill="#261d75"/>
<line x1="351.2" y1="164.6" x2="351.2" y2="181.3" stroke="#261d75" stroke-width="1.2"/>
<line x1="348.6" y1="164.6" x2="353.8" y2="164.6" stroke="#261d75" stroke-width="1.2"/>
<line x1="348.6" y1="181.3" x2="353.8" y2="181.3" stroke="#261d75" stroke-width="1.2"/>
<path d="M351.2,168.59L354.17,173.99L348.23,173.99Z" fill="#261d75"/>
<line x1="360.4" y1="140.8" x2="360.4" y2="152.7" stroke="#e2361c" stroke-width="1.2"/>
<line x1="357.8" y1="140.8" x2="363" y2="140.8" stroke="#e2361c" stroke-width="1.2"/>
<line x1="357.8" y1="152.7" x2="363" y2="152.7" stroke="#e2361c" stroke-width="1.2"/>
<circle cx="360.4" cy="146.3" r="2.7" fill="#e2361c"/>
<line x1="369.6" y1="122.6" x2="369.6" y2="139.7" stroke="#e2361c" stroke-width="1.2"/>
<line x1="367" y1="122.6" x2="372.2" y2="122.6" stroke="#e2361c" stroke-width="1.2"/>
<line x1="367" y1="139.7" x2="372.2" y2="139.7" stroke="#e2361c" stroke-width="1.2"/>
<rect x="366.9" y="126.8" width="5.4" height="5.4" fill="#e2361c"/>
<line x1="379.6" y1="100.2" x2="379.6" y2="128.7" stroke="#e2361c" stroke-width="1.2"/>
<line x1="377" y1="100.2" x2="382.2" y2="100.2" stroke="#e2361c" stroke-width="1.2"/>
<line x1="377" y1="128.7" x2="382.2" y2="128.7" stroke="#e2361c" stroke-width="1.2"/>
<path d="M379.6,108.19L382.57,113.59L376.63,113.59Z" fill="#e2361c"/>
<path d="M331,157H350.4" stroke="#1a1a1a" stroke-width="1.3" fill="none"/>
<path d="M341.3,157V83.5H370V93.5" stroke="#1a1a1a" stroke-width="1.3" fill="none"/>
<path d="M360.4,93.5H379.6" stroke="#1a1a1a" stroke-width="1.3" fill="none"/>
<g transform="translate(347.79,82.2) scale(1,1)" fill="#1a1a1a"><text x="-0.2" y="0" font-size="13">***</text></g>
<line x1="316.3" y1="289.8" x2="316.3" y2="432.4" stroke="#1a1a1a" stroke-width="1.3"/>
<line x1="311.3" y1="431.75" x2="385" y2="431.75" stroke="#1a1a1a" stroke-width="1.3"/>
<line x1="311.3" y1="431.75" x2="316.3" y2="431.75" stroke="#1a1a1a" stroke-width="1.2"/>
<g transform="translate(299.93,436.05) scale(1,1)" fill="#1a1a1a"><text x="-0.25" y="0" font-size="12.5">4</text></g>
<line x1="311.3" y1="411.93" x2="316.3" y2="411.93" stroke="#1a1a1a" stroke-width="1.2"/>
<g transform="translate(300.43,416.23) scale(1,1)" fill="#1a1a1a"><text x="-0.56" y="0" font-size="12.5">8</text></g>
<line x1="311.3" y1="392.11" x2="316.3" y2="392.11" stroke="#1a1a1a" stroke-width="1.2"/>
<g transform="translate(293.86,396.41) scale(1,1)" fill="#1a1a1a"><text x="-0.94" y="0" font-size="12.5">16</text></g>
<line x1="311.3" y1="372.29" x2="316.3" y2="372.29" stroke="#1a1a1a" stroke-width="1.2"/>
<g transform="translate(293.55,376.59) scale(1,1)" fill="#1a1a1a"><text x="-0.5" y="0" font-size="12.5">32</text></g>
<line x1="311.3" y1="352.47" x2="316.3" y2="352.47" stroke="#1a1a1a" stroke-width="1.2"/>
<g transform="translate(293.36,356.77) scale(1,1)" fill="#1a1a1a"><text x="-0.62" y="0" font-size="12.5">64</text></g>
<line x1="311.3" y1="332.65" x2="316.3" y2="332.65" stroke="#1a1a1a" stroke-width="1.2"/>
<g transform="translate(286.93,336.95) scale(1,1)" fill="#1a1a1a"><text x="-0.94" y="0" font-size="12.5">128</text></g>
<line x1="311.3" y1="312.83" x2="316.3" y2="312.83" stroke="#1a1a1a" stroke-width="1.2"/>
<g transform="translate(286.61,317.13) scale(1,1)" fill="#1a1a1a"><text x="-0.62" y="0" font-size="12.5">256</text></g>
<line x1="311.3" y1="293.01" x2="316.3" y2="293.01" stroke="#1a1a1a" stroke-width="1.2"/>
<g transform="translate(286.61,297.31) scale(1,1)" fill="#1a1a1a"><text x="-0.5" y="0" font-size="12.5">512</text></g>
<line x1="351.2" y1="431.75" x2="351.2" y2="436.45" stroke="#1a1a1a" stroke-width="1.2"/>
<g transform="translate(340,455) scale(0.73,1)" fill="#1a1a1a"><text x="-0.36" y="0" font-size="14.5">XG7</text></g>
<g transform="translate(273.6,409.4) rotate(-90) scale(0.79,1)" fill="#1a1a1a"><text x="-1.24" y="0" font-size="15.5">LD</text><text x="18.57" y="3.41" font-size="12.09">50</text><text x="32.02" y="0" font-size="15.5"> S63845 (nM)</text></g>
<line x1="322.5" y1="367" x2="322.5" y2="384.5" stroke="#261d75" stroke-width="1.2"/>
<line x1="319.9" y1="367" x2="325.1" y2="367" stroke="#261d75" stroke-width="1.2"/>
<line x1="319.9" y1="384.5" x2="325.1" y2="384.5" stroke="#261d75" stroke-width="1.2"/>
<circle cx="322.5" cy="374.5" r="2" fill="#fff" stroke="#261d75" stroke-width="1.4"/>
<line x1="332" y1="370" x2="332" y2="382" stroke="#261d75" stroke-width="1.2"/>
<line x1="329.4" y1="370" x2="334.6" y2="370" stroke="#261d75" stroke-width="1.2"/>
<line x1="329.4" y1="382" x2="334.6" y2="382" stroke="#261d75" stroke-width="1.2"/>
<circle cx="332" cy="375.5" r="2.7" fill="#261d75"/>
<rect x="339.05" y="354.3" width="5.4" height="5.4" fill="#261d75"/>
<line x1="350.75" y1="387.5" x2="350.75" y2="393.5" stroke="#261d75" stroke-width="1.2"/>
<line x1="348.15" y1="387.5" x2="353.35" y2="387.5" stroke="#261d75" stroke-width="1.2"/>
<line x1="348.15" y1="393.5" x2="353.35" y2="393.5" stroke="#261d75" stroke-width="1.2"/>
<path d="M350.75,388.39L353.72,393.8L347.78,393.8Z" fill="#261d75"/>
<line x1="360.25" y1="323" x2="360.25" y2="329.5" stroke="#e2361c" stroke-width="1.2"/>
<line x1="357.65" y1="323" x2="362.85" y2="323" stroke="#e2361c" stroke-width="1.2"/>
<line x1="357.65" y1="329.5" x2="362.85" y2="329.5" stroke="#e2361c" stroke-width="1.2"/>
<circle cx="360.25" cy="326.25" r="2.7" fill="#e2361c"/>
<line x1="370" y1="313.75" x2="370" y2="321" stroke="#e2361c" stroke-width="1.2"/>
<line x1="367.4" y1="313.75" x2="372.6" y2="313.75" stroke="#e2361c" stroke-width="1.2"/>
<line x1="367.4" y1="321" x2="372.6" y2="321" stroke="#e2361c" stroke-width="1.2"/>
<rect x="367.3" y="314.8" width="5.4" height="5.4" fill="#e2361c"/>
<line x1="379.25" y1="317.5" x2="379.25" y2="322.5" stroke="#e2361c" stroke-width="1.2"/>
<line x1="376.65" y1="317.5" x2="381.85" y2="317.5" stroke="#e2361c" stroke-width="1.2"/>
<line x1="376.65" y1="322.5" x2="381.85" y2="322.5" stroke="#e2361c" stroke-width="1.2"/>
<path d="M379.25,317.39L382.22,322.8L376.28,322.8Z" fill="#e2361c"/>
<path d="M332,349.25H351.25" stroke="#1a1a1a" stroke-width="1.3" fill="none"/>
<path d="M341.25,349.25V303H370V309.25" stroke="#1a1a1a" stroke-width="1.3" fill="none"/>
<path d="M360,309.25H379.5" stroke="#1a1a1a" stroke-width="1.3" fill="none"/>
<g transform="translate(345.59,304.2) scale(1,1)" fill="#1a1a1a"><text x="-0.2" y="0" font-size="13">****</text></g>
<circle cx="402.8" cy="58.9" r="1.85" fill="#fff" stroke="#261d75" stroke-width="1.4"/>
<g transform="translate(410.2,62.8) scale(1.07,1)" fill="#261d75"><text x="-0.74" y="0" font-size="11.4">bulk</text></g>
<circle cx="402.8" cy="81.8" r="2.35" fill="#261d75"/>
<g transform="translate(411.9,85.2) scale(0.98,1)" fill="#261d75"><text x="-1.04" y="0" font-size="11.6" font-style="italic">TP53</text><text x="26.68" y="-4.87" font-size="9.28">+/+</text><text x="40.1" y="0" font-size="11.6">#1</text></g>
<rect x="400.65" y="102.45" width="4.3" height="4.3" fill="#261d75"/>
<g transform="translate(411.9,108) scale(0.98,1)" fill="#261d75"><text x="-1.04" y="0" font-size="11.6" font-style="italic">TP53</text><text x="26.68" y="-4.87" font-size="9.28">+/+</text><text x="40.1" y="0" font-size="11.6">#2</text></g>
<path d="M402.8,125.13L405.17,129.43L400.44,129.43Z" fill="#261d75"/>
<g transform="translate(411.9,131) scale(0.98,1)" fill="#261d75"><text x="-1.04" y="0" font-size="11.6" font-style="italic">TP53</text><text x="26.68" y="-4.87" font-size="9.28">+/+</text><text x="40.1" y="0" font-size="11.6">#3</text></g>
<circle cx="402.8" cy="150.6" r="2.35" fill="#e2361c"/>
<g transform="translate(411.9,154) scale(0.95,1)" fill="#e2361c"><text x="-1.04" y="0" font-size="11.6" font-style="italic">TP53</text><text x="26.68" y="-4.87" font-size="9.28">−/−</text><text x="40.1" y="0" font-size="11.6">#1</text></g>
<rect x="400.65" y="171.75" width="4.3" height="4.3" fill="#e2361c"/>
<g transform="translate(411.9,177.3) scale(0.95,1)" fill="#e2361c"><text x="-1.04" y="0" font-size="11.6" font-style="italic">TP53</text><text x="26.68" y="-4.87" font-size="9.28">−/−</text><text x="40.1" y="0" font-size="11.6">#2</text></g>
<path d="M402.8,194.73L405.17,199.03L400.44,199.03Z" fill="#e2361c"/>
<g transform="translate(411.9,200.6) scale(0.94,1)" fill="#e2361c"><text x="-1.04" y="0" font-size="11.6" font-style="italic">TP53</text><text x="26.68" y="-4.87" font-size="9.28">−/−</text><text x="40.1" y="0" font-size="11.6">#3</text></g>
<circle cx="402.8" cy="290.9" r="1.85" fill="#fff" stroke="#261d75" stroke-width="1.4"/>
<g transform="translate(410.2,294.8) scale(1.07,1)" fill="#261d75"><text x="-0.74" y="0" font-size="11.4">bulk</text></g>
<circle cx="402.8" cy="314.1" r="2.35" fill="#261d75"/>
<g transform="translate(411.9,317.5) scale(0.98,1)" fill="#261d75"><text x="-1.04" y="0" font-size="11.6" font-style="italic">TP53</text><text x="26.68" y="-4.87" font-size="9.28">+/+</text><text x="40.1" y="0" font-size="11.6">#1</text></g>
<rect x="400.65" y="335.15" width="4.3" height="4.3" fill="#261d75"/>
<g transform="translate(411.9,340.7) scale(0.98,1)" fill="#261d75"><text x="-1.04" y="0" font-size="11.6" font-style="italic">TP53</text><text x="26.68" y="-4.87" font-size="9.28">+/+</text><text x="40.1" y="0" font-size="11.6">#2</text></g>
<path d="M402.8,357.83L405.17,362.13L400.44,362.13Z" fill="#261d75"/>
<g transform="translate(411.9,363.7) scale(0.98,1)" fill="#261d75"><text x="-1.04" y="0" font-size="11.6" font-style="italic">TP53</text><text x="26.68" y="-4.87" font-size="9.28">+/+</text><text x="40.1" y="0" font-size="11.6">#3</text></g>
<circle cx="402.8" cy="383.6" r="2.35" fill="#e2361c"/>
<g transform="translate(411.9,387) scale(0.95,1)" fill="#e2361c"><text x="-1.04" y="0" font-size="11.6" font-style="italic">TP53</text><text x="26.68" y="-4.87" font-size="9.28">−/−</text><text x="40.1" y="0" font-size="11.6">#1</text></g>
<rect x="400.65" y="404.55" width="4.3" height="4.3" fill="#e2361c"/>
<g transform="translate(411.9,410.1) scale(0.95,1)" fill="#e2361c"><text x="-1.04" y="0" font-size="11.6" font-style="italic">TP53</text><text x="26.68" y="-4.87" font-size="9.28">−/−</text><text x="40.1" y="0" font-size="11.6">#2</text></g>
<path d="M402.8,427.23L405.17,431.53L400.44,431.53Z" fill="#e2361c"/>
<g transform="translate(411.9,433.1) scale(0.94,1)" fill="#e2361c"><text x="-1.04" y="0" font-size="11.6" font-style="italic">TP53</text><text x="26.68" y="-4.87" font-size="9.28">−/−</text><text x="40.1" y="0" font-size="11.6">#3</text></g>
<g transform="translate(132.7,538.2) scale(1.07,1)" fill="#1a1a1a"><text x="-1.16" y="0" font-size="14.5">NCI-H929</text></g>
<line x1="89.8" y1="548" x2="89.8" y2="708.95" stroke="#1a1a1a" stroke-width="1.3"/>
<line x1="84.8" y1="708.3" x2="238.2" y2="708.3" stroke="#1a1a1a" stroke-width="1.3"/>
<line x1="84.8" y1="708.3" x2="89.8" y2="708.3" stroke="#1a1a1a" stroke-width="1.2"/>
<g transform="translate(73.6,712.6) scale(1,1)" fill="#1a1a1a"><text x="-0.5" y="0" font-size="12.5">0</text></g>
<line x1="84.8" y1="676.97" x2="89.8" y2="676.97" stroke="#1a1a1a" stroke-width="1.2"/>
<g transform="translate(66.79,681.27) scale(1,1)" fill="#1a1a1a"><text x="-0.62" y="0" font-size="12.5">20</text></g>
<line x1="84.8" y1="645.64" x2="89.8" y2="645.64" stroke="#1a1a1a" stroke-width="1.2"/>
<g transform="translate(66.41,649.94) scale(1,1)" fill="#1a1a1a"><text x="-0.25" y="0" font-size="12.5">40</text></g>
<line x1="84.8" y1="614.31" x2="89.8" y2="614.31" stroke="#1a1a1a" stroke-width="1.2"/>
<g transform="translate(66.79,618.61) scale(1,1)" fill="#1a1a1a"><text x="-0.62" y="0" font-size="12.5">60</text></g>
<line x1="84.8" y1="582.98" x2="89.8" y2="582.98" stroke="#1a1a1a" stroke-width="1.2"/>
<g transform="translate(66.72,587.28) scale(1,1)" fill="#1a1a1a"><text x="-0.56" y="0" font-size="12.5">80</text></g>
<line x1="84.8" y1="551.65" x2="89.8" y2="551.65" stroke="#1a1a1a" stroke-width="1.2"/>
<g transform="translate(60.16,555.95) scale(1,1)" fill="#1a1a1a"><text x="-0.94" y="0" font-size="12.5">100</text></g>
<line x1="89.8" y1="708.3" x2="89.8" y2="713" stroke="#1a1a1a" stroke-width="1.2"/>
<g transform="translate(81.58,729.2) scale(1,1)" fill="#1a1a1a"><text x="-0.5" y="0" font-size="12.5">0.0</text></g>
<line x1="126.75" y1="708.3" x2="126.75" y2="713" stroke="#1a1a1a" stroke-width="1.2"/>
<g transform="translate(118.62,729.2) scale(1,1)" fill="#1a1a1a"><text x="-0.62" y="0" font-size="12.5">2.5</text></g>
<line x1="163.7" y1="708.3" x2="163.7" y2="713" stroke="#1a1a1a" stroke-width="1.2"/>
<g transform="translate(155.48,729.2) scale(1,1)" fill="#1a1a1a"><text x="-0.5" y="0" font-size="12.5">5.0</text></g>
<line x1="200.65" y1="708.3" x2="200.65" y2="713" stroke="#1a1a1a" stroke-width="1.2"/>
<g transform="translate(192.52,729.2) scale(1,1)" fill="#1a1a1a"><text x="-0.62" y="0" font-size="12.5">7.5</text></g>
<line x1="237.6" y1="708.3" x2="237.6" y2="713" stroke="#1a1a1a" stroke-width="1.2"/>
<g transform="translate(226.13,729.2) scale(1,1)" fill="#1a1a1a"><text x="-0.94" y="0" font-size="12.5">10.0</text></g>
<g transform="translate(139.7,749.5) scale(0.88,1)" fill="#1a1a1a"><text x="-1.14" y="0" font-size="14.3">MS1 (</text><text x="37" y="0" font-size="14.3">μ</text><text x="45.23" y="0" font-size="14.3">M)</text></g>
<g transform="translate(50.4,686.4) rotate(-90) scale(0.79,1)" fill="#1a1a1a"><text x="-0.73" y="0" font-size="14.6">Cytochrome C loss (%)</text></g>
<path d="M89.8,691.85L108.27,625.59L126.75,593.95L163.7,586.74L237.6,580.32" stroke="#261d75" stroke-width="1.45" fill="none"/>
<path d="M89.8,690.44L108.27,666.79L126.75,636.24L163.7,608.04L237.6,587.68" stroke="#e2361c" stroke-width="1.45" fill="none"/>
<line x1="89.8" y1="685.59" x2="89.8" y2="698.9" stroke="#261d75" stroke-width="1.25"/>
<line x1="86.8" y1="685.59" x2="92.8" y2="685.59" stroke="#261d75" stroke-width="1.25"/>
<line x1="86.8" y1="698.9" x2="92.8" y2="698.9" stroke="#261d75" stroke-width="1.25"/>
<line x1="108.27" y1="594.73" x2="108.27" y2="656.61" stroke="#261d75" stroke-width="1.25"/>
<line x1="105.27" y1="594.73" x2="111.27" y2="594.73" stroke="#261d75" stroke-width="1.25"/>
<line x1="105.27" y1="656.61" x2="111.27" y2="656.61" stroke="#261d75" stroke-width="1.25"/>
<line x1="126.75" y1="567.31" x2="126.75" y2="619.01" stroke="#261d75" stroke-width="1.25"/>
<line x1="123.75" y1="567.31" x2="129.75" y2="567.31" stroke="#261d75" stroke-width="1.25"/>
<line x1="123.75" y1="619.01" x2="129.75" y2="619.01" stroke="#261d75" stroke-width="1.25"/>
<line x1="163.7" y1="567.94" x2="163.7" y2="606.48" stroke="#261d75" stroke-width="1.25"/>
<line x1="160.7" y1="567.94" x2="166.7" y2="567.94" stroke="#261d75" stroke-width="1.25"/>
<line x1="160.7" y1="606.48" x2="166.7" y2="606.48" stroke="#261d75" stroke-width="1.25"/>
<line x1="237.6" y1="562.93" x2="237.6" y2="597.08" stroke="#261d75" stroke-width="1.25"/>
<line x1="234.6" y1="562.93" x2="240.6" y2="562.93" stroke="#261d75" stroke-width="1.25"/>
<line x1="234.6" y1="597.08" x2="240.6" y2="597.08" stroke="#261d75" stroke-width="1.25"/>
<line x1="89.8" y1="687.94" x2="89.8" y2="694.2" stroke="#e2361c" stroke-width="1.25"/>
<line x1="86.8" y1="687.94" x2="92.8" y2="687.94" stroke="#e2361c" stroke-width="1.25"/>
<line x1="86.8" y1="694.2" x2="92.8" y2="694.2" stroke="#e2361c" stroke-width="1.25"/>
<line x1="108.27" y1="659.27" x2="108.27" y2="674.62" stroke="#e2361c" stroke-width="1.25"/>
<line x1="105.27" y1="659.27" x2="111.27" y2="659.27" stroke="#e2361c" stroke-width="1.25"/>
<line x1="105.27" y1="674.62" x2="111.27" y2="674.62" stroke="#e2361c" stroke-width="1.25"/>
<line x1="126.75" y1="618.38" x2="126.75" y2="654.41" stroke="#e2361c" stroke-width="1.25"/>
<line x1="123.75" y1="618.38" x2="129.75" y2="618.38" stroke="#e2361c" stroke-width="1.25"/>
<line x1="123.75" y1="654.41" x2="129.75" y2="654.41" stroke="#e2361c" stroke-width="1.25"/>
<line x1="163.7" y1="582.98" x2="163.7" y2="633.11" stroke="#e2361c" stroke-width="1.25"/>
<line x1="160.7" y1="582.98" x2="166.7" y2="582.98" stroke="#e2361c" stroke-width="1.25"/>
<line x1="160.7" y1="633.11" x2="166.7" y2="633.11" stroke="#e2361c" stroke-width="1.25"/>
<line x1="237.6" y1="582.2" x2="237.6" y2="598.64" stroke="#e2361c" stroke-width="1.25"/>
<line x1="234.6" y1="582.2" x2="240.6" y2="582.2" stroke="#e2361c" stroke-width="1.25"/>
<line x1="234.6" y1="598.64" x2="240.6" y2="598.64" stroke="#e2361c" stroke-width="1.25"/>
<circle cx="89.8" cy="690.44" r="3.15" fill="#e2361c"/>
<circle cx="108.27" cy="666.79" r="3.15" fill="#e2361c"/>
<circle cx="126.75" cy="636.24" r="3.15" fill="#e2361c"/>
<circle cx="163.7" cy="608.04" r="3.15" fill="#e2361c"/>
<circle cx="237.6" cy="587.68" r="3.15" fill="#e2361c"/>
<circle cx="89.8" cy="691.85" r="3.15" fill="#261d75"/>
<circle cx="108.27" cy="625.59" r="3.15" fill="#261d75"/>
<circle cx="126.75" cy="593.95" r="3.15" fill="#261d75"/>
<circle cx="163.7" cy="586.74" r="3.15" fill="#261d75"/>
<circle cx="237.6" cy="580.32" r="3.15" fill="#261d75"/>
<g transform="translate(105.96,595) scale(1,1)" fill="#1a1a1a"><text x="-0.2" y="0" font-size="13">*</text></g>
<g transform="translate(125.06,567) scale(1,1)" fill="#1a1a1a"><text x="-0.2" y="0" font-size="13">*</text></g>
<line x1="178" y1="673.4" x2="194.4" y2="673.4" stroke="#261d75" stroke-width="1.3"/>
<circle cx="186.2" cy="673.4" r="3" fill="#261d75"/>
<g transform="translate(201,677) scale(0.97,1)" fill="#261d75"><text x="-1.11" y="0" font-size="12.3" font-style="italic">TP53</text><text x="28.29" y="-5.54" font-size="9.84">+/+</text></g>
<line x1="178" y1="691" x2="194.4" y2="691" stroke="#e2361c" stroke-width="1.3"/>
<circle cx="186.2" cy="691" r="3" fill="#e2361c"/>
<g transform="translate(201,694.6) scale(0.9,1)" fill="#e2361c"><text x="-1.11" y="0" font-size="12.3" font-style="italic">TP53</text><text x="28.29" y="-5.54" font-size="9.84">−/−</text></g>
<g transform="translate(377.5,538.7) scale(1.02,1)" fill="#1a1a1a"><text x="-0.36" y="0" font-size="14.5">XG7</text></g>
<line x1="316.5" y1="548" x2="316.5" y2="708.95" stroke="#1a1a1a" stroke-width="1.3"/>
<line x1="311.5" y1="708.3" x2="467.2" y2="708.3" stroke="#1a1a1a" stroke-width="1.3"/>
<line x1="311.5" y1="708.3" x2="316.5" y2="708.3" stroke="#1a1a1a" stroke-width="1.2"/>
<g transform="translate(300.3,712.6) scale(1,1)" fill="#1a1a1a"><text x="-0.5" y="0" font-size="12.5">0</text></g>
<line x1="311.5" y1="676.97" x2="316.5" y2="676.97" stroke="#1a1a1a" stroke-width="1.2"/>
<g transform="translate(293.49,681.27) scale(1,1)" fill="#1a1a1a"><text x="-0.62" y="0" font-size="12.5">20</text></g>
<line x1="311.5" y1="645.64" x2="316.5" y2="645.64" stroke="#1a1a1a" stroke-width="1.2"/>
<g transform="translate(293.11,649.94) scale(1,1)" fill="#1a1a1a"><text x="-0.25" y="0" font-size="12.5">40</text></g>
<line x1="311.5" y1="614.31" x2="316.5" y2="614.31" stroke="#1a1a1a" stroke-width="1.2"/>
<g transform="translate(293.49,618.61) scale(1,1)" fill="#1a1a1a"><text x="-0.62" y="0" font-size="12.5">60</text></g>
<line x1="311.5" y1="582.98" x2="316.5" y2="582.98" stroke="#1a1a1a" stroke-width="1.2"/>
<g transform="translate(293.43,587.28) scale(1,1)" fill="#1a1a1a"><text x="-0.56" y="0" font-size="12.5">80</text></g>
<line x1="311.5" y1="551.65" x2="316.5" y2="551.65" stroke="#1a1a1a" stroke-width="1.2"/>
<g transform="translate(286.86,555.95) scale(1,1)" fill="#1a1a1a"><text x="-0.94" y="0" font-size="12.5">100</text></g>
<line x1="316.5" y1="708.3" x2="316.5" y2="713" stroke="#1a1a1a" stroke-width="1.2"/>
<g transform="translate(313.5,729.2) scale(1,1)" fill="#1a1a1a"><text x="-0.5" y="0" font-size="12.5">0</text></g>
<line x1="353.15" y1="708.3" x2="353.15" y2="713" stroke="#1a1a1a" stroke-width="1.2"/>
<g transform="translate(350.18,729.2) scale(1,1)" fill="#1a1a1a"><text x="-0.5" y="0" font-size="12.5">5</text></g>
<line x1="389.8" y1="708.3" x2="389.8" y2="713" stroke="#1a1a1a" stroke-width="1.2"/>
<g transform="translate(383.55,729.2) scale(1,1)" fill="#1a1a1a"><text x="-0.94" y="0" font-size="12.5">10</text></g>
<line x1="426.45" y1="708.3" x2="426.45" y2="713" stroke="#1a1a1a" stroke-width="1.2"/>
<g transform="translate(420.23,729.2) scale(1,1)" fill="#1a1a1a"><text x="-0.94" y="0" font-size="12.5">15</text></g>
<line x1="463.1" y1="708.3" x2="463.1" y2="713" stroke="#1a1a1a" stroke-width="1.2"/>
<g transform="translate(456.69,729.2) scale(1,1)" fill="#1a1a1a"><text x="-0.62" y="0" font-size="12.5">20</text></g>
<g transform="translate(366,749.5) scale(0.88,1)" fill="#1a1a1a"><text x="-1.14" y="0" font-size="14.3">MS1 (</text><text x="37" y="0" font-size="14.3">μ</text><text x="45.23" y="0" font-size="14.3">M)</text></g>
<g transform="translate(277,686.7) rotate(-90) scale(0.83,1)" fill="#1a1a1a"><text x="-0.73" y="0" font-size="14.6">Cytochrome C loss (%)</text></g>
<path d="M316.5,695.61L353.15,690.76L389.8,677.6L463.1,608.04" stroke="#261d75" stroke-width="1.45" fill="none"/>
<path d="M316.5,698.9L353.15,696.86L389.8,695.3L463.1,674.93" stroke="#e2361c" stroke-width="1.45" fill="none"/>
<line x1="316.5" y1="690.29" x2="316.5" y2="701.25" stroke="#261d75" stroke-width="1.25"/>
<line x1="313.5" y1="690.29" x2="319.5" y2="690.29" stroke="#261d75" stroke-width="1.25"/>
<line x1="313.5" y1="701.25" x2="319.5" y2="701.25" stroke="#261d75" stroke-width="1.25"/>
<line x1="353.15" y1="684.02" x2="353.15" y2="697.33" stroke="#261d75" stroke-width="1.25"/>
<line x1="350.15" y1="684.02" x2="356.15" y2="684.02" stroke="#261d75" stroke-width="1.25"/>
<line x1="350.15" y1="697.33" x2="356.15" y2="697.33" stroke="#261d75" stroke-width="1.25"/>
<line x1="389.8" y1="665.22" x2="389.8" y2="691.07" stroke="#261d75" stroke-width="1.25"/>
<line x1="386.8" y1="665.22" x2="392.8" y2="665.22" stroke="#261d75" stroke-width="1.25"/>
<line x1="386.8" y1="691.07" x2="392.8" y2="691.07" stroke="#261d75" stroke-width="1.25"/>
<line x1="463.1" y1="584.55" x2="463.1" y2="631.54" stroke="#261d75" stroke-width="1.25"/>
<line x1="460.1" y1="584.55" x2="466.1" y2="584.55" stroke="#261d75" stroke-width="1.25"/>
<line x1="460.1" y1="631.54" x2="466.1" y2="631.54" stroke="#261d75" stroke-width="1.25"/>
<line x1="389.8" y1="691.07" x2="389.8" y2="695.3" stroke="#e2361c" stroke-width="1.25"/>
<line x1="386.8" y1="691.07" x2="392.8" y2="691.07" stroke="#e2361c" stroke-width="1.25"/>
<line x1="386.8" y1="695.3" x2="392.8" y2="695.3" stroke="#e2361c" stroke-width="1.25"/>
<rect x="313.5" y="695.9" width="6" height="6" fill="#e2361c"/>
<rect x="350.15" y="693.86" width="6" height="6" fill="#e2361c"/>
<rect x="386.8" y="692.3" width="6" height="6" fill="#e2361c"/>
<rect x="460.1" y="671.93" width="6" height="6" fill="#e2361c"/>
<rect x="313.5" y="692.61" width="6" height="6" fill="#261d75"/>
<rect x="350.15" y="687.76" width="6" height="6" fill="#261d75"/>
<rect x="386.8" y="674.6" width="6" height="6" fill="#261d75"/>
<rect x="460.1" y="605.04" width="6" height="6" fill="#261d75"/>
<g transform="translate(458.73,584) scale(1,1)" fill="#1a1a1a"><text x="-0.2" y="0" font-size="13">**</text></g>
<line x1="326" y1="563.7" x2="343.8" y2="563.7" stroke="#261d75" stroke-width="1.3"/>
<rect x="332.1" y="560.9" width="5.6" height="5.6" fill="#261d75"/>
<g transform="translate(349.5,567.3) scale(0.96,1)" fill="#261d75"><text x="-1.11" y="0" font-size="12.3" font-style="italic">TP53</text><text x="28.29" y="-5.54" font-size="9.84">+/+</text></g>
<line x1="326" y1="581.7" x2="343.8" y2="581.7" stroke="#e2361c" stroke-width="1.3"/>
<rect x="332.1" y="578.9" width="5.6" height="5.6" fill="#e2361c"/>
<g transform="translate(349.5,585.3) scale(0.89,1)" fill="#e2361c"><text x="-1.11" y="0" font-size="12.3" font-style="italic">TP53</text><text x="28.29" y="-5.54" font-size="9.84">−/−</text></g>
<g transform="translate(276.3,810.6) scale(0.99,1)" fill="#1a1a1a"><text x="-1.2" y="0" font-size="15">HMCLs</text></g>
<line x1="89.8" y1="826.7" x2="89.8" y2="990.85" stroke="#1a1a1a" stroke-width="1.3"/>
<line x1="84.8" y1="990.2" x2="170.4" y2="990.2" stroke="#1a1a1a" stroke-width="1.3"/>
<line x1="85" y1="990.2" x2="89.8" y2="990.2" stroke="#1a1a1a" stroke-width="1.2"/>
<g transform="translate(74.59,994.4) scale(1,1)" fill="#1a1a1a"><text x="-0.91" y="0" font-size="12.2">1</text></g>
<line x1="85" y1="950.45" x2="89.8" y2="950.45" stroke="#1a1a1a" stroke-width="1.2"/>
<g transform="translate(67.7,954.65) scale(1,1)" fill="#1a1a1a"><text x="-0.91" y="0" font-size="12.2">10</text></g>
<line x1="85" y1="910.7" x2="89.8" y2="910.7" stroke="#1a1a1a" stroke-width="1.2"/>
<g transform="translate(60.93,914.9) scale(1,1)" fill="#1a1a1a"><text x="-0.91" y="0" font-size="12.2">100</text></g>
<line x1="85" y1="870.95" x2="89.8" y2="870.95" stroke="#1a1a1a" stroke-width="1.2"/>
<g transform="translate(54.1,875.15) scale(1,1)" fill="#1a1a1a"><text x="-0.91" y="0" font-size="12.2">1000</text></g>
<line x1="85" y1="831.2" x2="89.8" y2="831.2" stroke="#1a1a1a" stroke-width="1.2"/>
<g transform="translate(47.33,835.4) scale(1,1)" fill="#1a1a1a"><text x="-0.91" y="0" font-size="12.2">10000</text></g>
<line x1="113.3" y1="990.2" x2="113.3" y2="994.8" stroke="#1a1a1a" stroke-width="1.2"/>
<line x1="147.7" y1="990.2" x2="147.7" y2="994.8" stroke="#1a1a1a" stroke-width="1.2"/>
<g transform="translate(36.3,957) rotate(-90) scale(0.79,1)" fill="#1a1a1a"><text x="-1.24" y="0" font-size="15.5">LD</text><text x="18.57" y="3.41" font-size="12.09">50</text><text x="32.02" y="0" font-size="15.5"> S63845 (nM)</text></g>
<g transform="translate(116.1,1005.2) rotate(-45) scale(0.97,1)" fill="#1a1a1a"><text x="-41.53" y="0" font-size="13.3">TP53</text><text x="-9.74" y="-5.59" font-size="9.84">wt</text></g>
<g transform="translate(150.1,1005.2) rotate(-45) scale(0.97,1)" fill="#1a1a1a"><text x="-48.67" y="0" font-size="13.3">TP53</text><text x="-16.88" y="-5.59" font-size="9.84">Abn</text></g>
<circle cx="113.3" cy="898.8" r="2.3" fill="#261d75"/>
<circle cx="113.3" cy="908.1" r="2.3" fill="#261d75"/>
<circle cx="108.5" cy="926.3" r="2.3" fill="#261d75"/>
<circle cx="118.1" cy="926.3" r="2.3" fill="#261d75"/>
<circle cx="113.3" cy="935" r="2.3" fill="#261d75"/>
<circle cx="113.3" cy="947.3" r="2.3" fill="#261d75"/>
<circle cx="104" cy="950.8" r="2.3" fill="#261d75"/>
<circle cx="122.7" cy="950.8" r="2.3" fill="#261d75"/>
<circle cx="113.3" cy="952.7" r="2.3" fill="#261d75"/>
<circle cx="113.3" cy="959.8" r="2.3" fill="#261d75"/>
<circle cx="113.3" cy="971.5" r="2.3" fill="#261d75"/>
<circle cx="145" cy="883.1" r="2.1" fill="#e06674" stroke="#cc5867" stroke-width="0.6"/>
<circle cx="151.2" cy="883.1" r="2.1" fill="#e06674" stroke="#cc5867" stroke-width="0.6"/>
<circle cx="138.7" cy="888.8" r="2.1" fill="#e06674" stroke="#cc5867" stroke-width="0.6"/>
<circle cx="145" cy="888.8" r="2.1" fill="#e06674" stroke="#cc5867" stroke-width="0.6"/>
<circle cx="151.2" cy="892.1" r="2.1" fill="#e06674" stroke="#cc5867" stroke-width="0.6"/>
<circle cx="157.3" cy="889.6" r="2.1" fill="#e06674" stroke="#cc5867" stroke-width="0.6"/>
<circle cx="141.9" cy="898.8" r="2.1" fill="#e06674" stroke="#cc5867" stroke-width="0.6"/>
<circle cx="147.9" cy="897.3" r="2.1" fill="#e06674" stroke="#cc5867" stroke-width="0.6"/>
<circle cx="154" cy="898.8" r="2.1" fill="#e06674" stroke="#cc5867" stroke-width="0.6"/>
<circle cx="145" cy="915.2" r="2.1" fill="#e06674" stroke="#cc5867" stroke-width="0.6"/>
<circle cx="151.2" cy="915.8" r="2.1" fill="#e06674" stroke="#cc5867" stroke-width="0.6"/>
<circle cx="147.9" cy="924.8" r="2.1" fill="#e06674" stroke="#cc5867" stroke-width="0.6"/>
<circle cx="147.9" cy="931.5" r="2.1" fill="#e06674" stroke="#cc5867" stroke-width="0.6"/>
<circle cx="145" cy="940.8" r="2.1" fill="#e06674" stroke="#cc5867" stroke-width="0.6"/>
<circle cx="151.2" cy="938.8" r="2.1" fill="#e06674" stroke="#cc5867" stroke-width="0.6"/>
<circle cx="151.2" cy="944" r="2.1" fill="#e06674" stroke="#cc5867" stroke-width="0.6"/>
<circle cx="157.3" cy="942.5" r="2.1" fill="#e06674" stroke="#cc5867" stroke-width="0.6"/>
<circle cx="145" cy="950.8" r="2.1" fill="#e06674" stroke="#cc5867" stroke-width="0.6"/>
<circle cx="151.2" cy="952.7" r="2.1" fill="#e06674" stroke="#cc5867" stroke-width="0.6"/>
<circle cx="147.9" cy="962.7" r="2.1" fill="#e06674" stroke="#cc5867" stroke-width="0.6"/>
<line x1="102.1" y1="947.3" x2="124.6" y2="947.3" stroke="#1a1a1a" stroke-width="1.3"/>
<line x1="136.7" y1="915.2" x2="159.8" y2="915.2" stroke="#1a1a1a" stroke-width="1.3"/>
<path d="M113.1,882.5V863.3H147.3V872.9" stroke="#1a1a1a" stroke-width="1.3" fill="none"/>
<g transform="translate(128.06,862.5) scale(1,1)" fill="#1a1a1a"><text x="-0.2" y="0" font-size="13">*</text></g>
<line x1="258.6" y1="826.7" x2="258.6" y2="990.85" stroke="#1a1a1a" stroke-width="1.3"/>
<line x1="253.6" y1="990.2" x2="339.4" y2="990.2" stroke="#1a1a1a" stroke-width="1.3"/>
<line x1="253.8" y1="990.2" x2="258.6" y2="990.2" stroke="#1a1a1a" stroke-width="1.2"/>
<g transform="translate(243.99,994.4) scale(1,1)" fill="#1a1a1a"><text x="-0.91" y="0" font-size="12.2">1</text></g>
<line x1="253.8" y1="958.35" x2="258.6" y2="958.35" stroke="#1a1a1a" stroke-width="1.2"/>
<g transform="translate(237.1,962.55) scale(1,1)" fill="#1a1a1a"><text x="-0.91" y="0" font-size="12.2">10</text></g>
<line x1="253.8" y1="926.5" x2="258.6" y2="926.5" stroke="#1a1a1a" stroke-width="1.2"/>
<g transform="translate(230.33,930.7) scale(1,1)" fill="#1a1a1a"><text x="-0.91" y="0" font-size="12.2">100</text></g>
<line x1="253.8" y1="894.65" x2="258.6" y2="894.65" stroke="#1a1a1a" stroke-width="1.2"/>
<g transform="translate(223.5,898.85) scale(1,1)" fill="#1a1a1a"><text x="-0.91" y="0" font-size="12.2">1000</text></g>
<line x1="253.8" y1="862.8" x2="258.6" y2="862.8" stroke="#1a1a1a" stroke-width="1.2"/>
<g transform="translate(216.73,867) scale(1,1)" fill="#1a1a1a"><text x="-0.91" y="0" font-size="12.2">10000</text></g>
<line x1="253.8" y1="830.95" x2="258.6" y2="830.95" stroke="#1a1a1a" stroke-width="1.2"/>
<g transform="translate(209.96,835.15) scale(1,1)" fill="#1a1a1a"><text x="-0.91" y="0" font-size="12.2">100000</text></g>
<line x1="282.3" y1="990.2" x2="282.3" y2="994.8" stroke="#1a1a1a" stroke-width="1.2"/>
<line x1="317.3" y1="990.2" x2="317.3" y2="994.8" stroke="#1a1a1a" stroke-width="1.2"/>
<g transform="translate(198.6,963.5) rotate(-90) scale(0.77,1)" fill="#1a1a1a"><text x="-1.24" y="0" font-size="15.5">LD</text><text x="18.57" y="3.41" font-size="12.09">50</text><text x="32.02" y="0" font-size="15.5"> venetoclax (nM)</text></g>
<g transform="translate(285.1,1005.2) rotate(-45) scale(0.97,1)" fill="#1a1a1a"><text x="-41.53" y="0" font-size="13.3">TP53</text><text x="-9.74" y="-5.59" font-size="9.84">wt</text></g>
<g transform="translate(319.7,1005.2) rotate(-45) scale(0.97,1)" fill="#1a1a1a"><text x="-48.67" y="0" font-size="13.3">TP53</text><text x="-16.88" y="-5.59" font-size="9.84">Abn</text></g>
<circle cx="282.3" cy="862.9" r="2.3" fill="#261d75"/>
<circle cx="276" cy="872.3" r="2.3" fill="#261d75"/>
<circle cx="282.3" cy="872.3" r="2.3" fill="#261d75"/>
<circle cx="273" cy="875.8" r="2.3" fill="#261d75"/>
<circle cx="278.8" cy="875.8" r="2.3" fill="#261d75"/>
<circle cx="285.6" cy="875.8" r="2.3" fill="#261d75"/>
<circle cx="276" cy="877.7" r="2.3" fill="#261d75"/>
<circle cx="291.3" cy="877.3" r="2.3" fill="#261d75"/>
<circle cx="282.3" cy="880" r="2.3" fill="#261d75"/>
<circle cx="288.5" cy="880" r="2.3" fill="#261d75"/>
<circle cx="282.3" cy="975.4" r="2.3" fill="#261d75"/>
<circle cx="315" cy="862.7" r="2.1" fill="#e06674" stroke="#cc5867" stroke-width="0.6"/>
<circle cx="319.2" cy="865.8" r="2.1" fill="#e06674" stroke="#cc5867" stroke-width="0.6"/>
<circle cx="322.7" cy="868.1" r="2.1" fill="#e06674" stroke="#cc5867" stroke-width="0.6"/>
<circle cx="307.7" cy="871.5" r="2.1" fill="#e06674" stroke="#cc5867" stroke-width="0.6"/>
<circle cx="311.5" cy="870.4" r="2.1" fill="#e06674" stroke="#cc5867" stroke-width="0.6"/>
<circle cx="316.3" cy="872.3" r="2.1" fill="#e06674" stroke="#cc5867" stroke-width="0.6"/>
<circle cx="319.2" cy="872.3" r="2.1" fill="#e06674" stroke="#cc5867" stroke-width="0.6"/>
<circle cx="326.5" cy="872.3" r="2.1" fill="#e06674" stroke="#cc5867" stroke-width="0.6"/>
<circle cx="308.7" cy="878.7" r="2.1" fill="#e06674" stroke="#cc5867" stroke-width="0.6"/>
<circle cx="313.5" cy="878.1" r="2.1" fill="#e06674" stroke="#cc5867" stroke-width="0.6"/>
<circle cx="316.9" cy="881.9" r="2.1" fill="#e06674" stroke="#cc5867" stroke-width="0.6"/>
<circle cx="320.8" cy="880.6" r="2.1" fill="#e06674" stroke="#cc5867" stroke-width="0.6"/>
<circle cx="324" cy="880" r="2.1" fill="#e06674" stroke="#cc5867" stroke-width="0.6"/>
<circle cx="316.9" cy="889.2" r="2.1" fill="#e06674" stroke="#cc5867" stroke-width="0.6"/>
<circle cx="316.9" cy="897.9" r="2.1" fill="#e06674" stroke="#cc5867" stroke-width="0.6"/>
<circle cx="316.9" cy="911.7" r="2.1" fill="#e06674" stroke="#cc5867" stroke-width="0.6"/>
<circle cx="318.8" cy="948.8" r="2.1" fill="#e06674" stroke="#cc5867" stroke-width="0.6"/>
<circle cx="315" cy="953.1" r="2.1" fill="#e06674" stroke="#cc5867" stroke-width="0.6"/>
<circle cx="315" cy="968.5" r="2.1" fill="#e06674" stroke="#cc5867" stroke-width="0.6"/>
<circle cx="318.8" cy="968.5" r="2.1" fill="#e06674" stroke="#cc5867" stroke-width="0.6"/>
<line x1="272.1" y1="876.7" x2="294.2" y2="876.7" stroke="#1a1a1a" stroke-width="1.3"/>
<line x1="305.8" y1="879.6" x2="327.9" y2="879.6" stroke="#1a1a1a" stroke-width="1.3"/>
<path d="M282.3,854.6V846.9H317.3V851.7" stroke="#1a1a1a" stroke-width="1.3" fill="none"/>
<g transform="translate(293.89,843.5) scale(1,1)" fill="#1a1a1a"><text x="-0.83" y="0" font-size="12.8">ns</text></g>
<line x1="428.4" y1="826.7" x2="428.4" y2="990.85" stroke="#1a1a1a" stroke-width="1.3"/>
<line x1="423.4" y1="990.2" x2="508.8" y2="990.2" stroke="#1a1a1a" stroke-width="1.3"/>
<line x1="423.6" y1="990.2" x2="428.4" y2="990.2" stroke="#1a1a1a" stroke-width="1.2"/>
<g transform="translate(413.09,994.4) scale(1,1)" fill="#1a1a1a"><text x="-0.91" y="0" font-size="12.2">1</text></g>
<line x1="423.6" y1="958.35" x2="428.4" y2="958.35" stroke="#1a1a1a" stroke-width="1.2"/>
<g transform="translate(406.2,962.55) scale(1,1)" fill="#1a1a1a"><text x="-0.91" y="0" font-size="12.2">10</text></g>
<line x1="423.6" y1="926.5" x2="428.4" y2="926.5" stroke="#1a1a1a" stroke-width="1.2"/>
<g transform="translate(399.43,930.7) scale(1,1)" fill="#1a1a1a"><text x="-0.91" y="0" font-size="12.2">100</text></g>
<line x1="423.6" y1="894.65" x2="428.4" y2="894.65" stroke="#1a1a1a" stroke-width="1.2"/>
<g transform="translate(392.6,898.85) scale(1,1)" fill="#1a1a1a"><text x="-0.91" y="0" font-size="12.2">1000</text></g>
<line x1="423.6" y1="862.8" x2="428.4" y2="862.8" stroke="#1a1a1a" stroke-width="1.2"/>
<g transform="translate(385.83,867) scale(1,1)" fill="#1a1a1a"><text x="-0.91" y="0" font-size="12.2">10000</text></g>
<line x1="423.6" y1="830.95" x2="428.4" y2="830.95" stroke="#1a1a1a" stroke-width="1.2"/>
<g transform="translate(379.06,835.15) scale(1,1)" fill="#1a1a1a"><text x="-0.91" y="0" font-size="12.2">100000</text></g>
<line x1="450.8" y1="990.2" x2="450.8" y2="994.8" stroke="#1a1a1a" stroke-width="1.2"/>
<line x1="486.3" y1="990.2" x2="486.3" y2="994.8" stroke="#1a1a1a" stroke-width="1.2"/>
<g transform="translate(367.6,963.7) rotate(-90) scale(0.8,1)" fill="#1a1a1a"><text x="-1.24" y="0" font-size="15.5">LD</text><text x="18.57" y="3.41" font-size="12.09">50</text><text x="32.02" y="0" font-size="15.5"> A1155463 (nM)</text></g>
<g transform="translate(453.6,1005.2) rotate(-45) scale(0.97,1)" fill="#1a1a1a"><text x="-41.53" y="0" font-size="13.3">TP53</text><text x="-9.74" y="-5.59" font-size="9.84">wt</text></g>
<g transform="translate(488.7,1005.2) rotate(-45) scale(0.97,1)" fill="#1a1a1a"><text x="-48.67" y="0" font-size="13.3">TP53</text><text x="-16.88" y="-5.59" font-size="9.84">Abn</text></g>
<circle cx="447.8" cy="853.7" r="2.3" fill="#261d75"/>
<circle cx="450.3" cy="853.7" r="2.3" fill="#261d75"/>
<circle cx="452.8" cy="853.7" r="2.3" fill="#261d75"/>
<circle cx="455.3" cy="853.7" r="2.3" fill="#261d75"/>
<circle cx="443" cy="867.2" r="2.3" fill="#261d75"/>
<circle cx="445.5" cy="868" r="2.3" fill="#261d75"/>
<circle cx="448.2" cy="869" r="2.3" fill="#261d75"/>
<circle cx="450.8" cy="871.3" r="2.3" fill="#261d75"/>
<circle cx="453.5" cy="869.6" r="2.3" fill="#261d75"/>
<circle cx="456.2" cy="870.2" r="2.3" fill="#261d75"/>
<circle cx="458.8" cy="870.5" r="2.3" fill="#261d75"/>
<circle cx="460.8" cy="870.5" r="2.3" fill="#261d75"/>
<circle cx="451.3" cy="958.5" r="2.3" fill="#261d75"/>
<circle cx="477.8" cy="853.7" r="2.1" fill="#e06674" stroke="#cc5867" stroke-width="0.6"/>
<circle cx="480.5" cy="853.7" r="2.1" fill="#e06674" stroke="#cc5867" stroke-width="0.6"/>
<circle cx="483.3" cy="853.7" r="2.1" fill="#e06674" stroke="#cc5867" stroke-width="0.6"/>
<circle cx="486.1" cy="853.7" r="2.1" fill="#e06674" stroke="#cc5867" stroke-width="0.6"/>
<circle cx="488.9" cy="853.7" r="2.1" fill="#e06674" stroke="#cc5867" stroke-width="0.6"/>
<circle cx="491.7" cy="853.7" r="2.1" fill="#e06674" stroke="#cc5867" stroke-width="0.6"/>
<circle cx="494.5" cy="853.7" r="2.1" fill="#e06674" stroke="#cc5867" stroke-width="0.6"/>
<circle cx="486.3" cy="862.7" r="2.1" fill="#e06674" stroke="#cc5867" stroke-width="0.6"/>
<circle cx="486.3" cy="868.3" r="2.1" fill="#e06674" stroke="#cc5867" stroke-width="0.6"/>
<circle cx="484.7" cy="870.8" r="2.1" fill="#e06674" stroke="#cc5867" stroke-width="0.6"/>
<circle cx="487.9" cy="870.8" r="2.1" fill="#e06674" stroke="#cc5867" stroke-width="0.6"/>
<circle cx="484.9" cy="880" r="2.1" fill="#e06674" stroke="#cc5867" stroke-width="0.6"/>
<circle cx="487.9" cy="880" r="2.1" fill="#e06674" stroke="#cc5867" stroke-width="0.6"/>
<circle cx="486.3" cy="904.6" r="2.1" fill="#e06674" stroke="#cc5867" stroke-width="0.6"/>
<circle cx="486.3" cy="917.1" r="2.1" fill="#e06674" stroke="#cc5867" stroke-width="0.6"/>
<path d="M449.8,846.9V840.8H486.3V846.9" stroke="#1a1a1a" stroke-width="1.3" fill="none"/>
<g transform="translate(462.39,837.7) scale(1,1)" fill="#1a1a1a"><text x="-0.83" y="0" font-size="12.8">ns</text></g></svg>
</body></html>
